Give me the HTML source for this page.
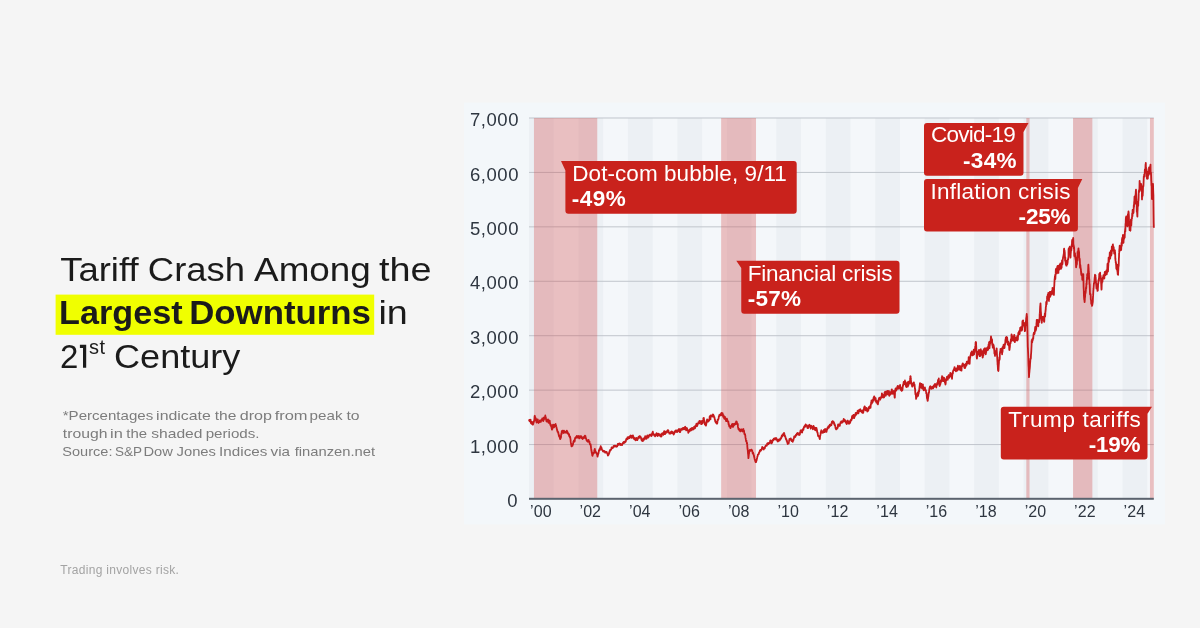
<!DOCTYPE html>
<html><head><meta charset="utf-8">
<style>
html,body{margin:0;padding:0;}
body{width:1200px;height:628px;background:#f5f5f5;position:relative;overflow:hidden;font-family:"Liberation Sans",sans-serif;}
svg{position:absolute;left:0;top:0;will-change:transform;}
</style></head>
<body>
<svg width="1200" height="628" viewBox="0 0 1200 628" font-family="Liberation Sans, sans-serif">
<!-- left text -->
<rect x="55.6" y="294.6" width="318.6" height="40.2" fill="#f0ff00"/>
<g fill="#1b1b1b" font-size="33">
<text x="60.17" y="280.8" textLength="78.44" lengthAdjust="spacingAndGlyphs">Tariff</text>
<text x="147.83" y="280.8" textLength="97.32" lengthAdjust="spacingAndGlyphs">Crash</text>
<text x="254.06" y="280.8" textLength="116.8" lengthAdjust="spacingAndGlyphs">Among</text>
<text x="378.92" y="280.8" textLength="52.53" lengthAdjust="spacingAndGlyphs">the</text>
<text x="59.12" y="324.3" font-weight="bold" textLength="123.62" lengthAdjust="spacingAndGlyphs">Largest</text>
<text x="189.2" y="324.3" font-weight="bold" textLength="181.75" lengthAdjust="spacingAndGlyphs">Downturns</text>
<text x="378.41" y="324.3" textLength="29.35" lengthAdjust="spacingAndGlyphs">in</text>
<text x="114.01" y="368.2" textLength="126.42" lengthAdjust="spacingAndGlyphs">Century</text>
<text x="60" y="368.2">2</text>
<path d="M83,344.8 H86.2 V367.8 H83 V347.9 H79.9 V344.8 Z"/>
<text x="89" y="353.5" font-size="20" textLength="16" lengthAdjust="spacing">st</text>
</g>
<g fill="#7c7c7c" font-size="13.5">
<text x="62.73" y="420.2" textLength="90.48" lengthAdjust="spacingAndGlyphs">*Percentages</text>
<text x="156.14" y="420.2" textLength="54.71" lengthAdjust="spacingAndGlyphs">indicate</text>
<text x="214.69" y="420.2" textLength="21.68" lengthAdjust="spacingAndGlyphs">the</text>
<text x="239.72" y="420.2" textLength="32.25" lengthAdjust="spacingAndGlyphs">drop</text>
<text x="274.68" y="420.2" textLength="32.91" lengthAdjust="spacingAndGlyphs">from</text>
<text x="309.59" y="420.2" textLength="32.89" lengthAdjust="spacingAndGlyphs">peak</text>
<text x="346.43" y="420.2" textLength="13.16" lengthAdjust="spacingAndGlyphs">to</text>
<text x="62.86" y="437.8" textLength="44.63" lengthAdjust="spacingAndGlyphs">trough</text>
<text x="110.1" y="437.8" textLength="12.76" lengthAdjust="spacingAndGlyphs">in</text>
<text x="126.26" y="437.8" textLength="20.81" lengthAdjust="spacingAndGlyphs">the</text>
<text x="151.22" y="437.8" textLength="51.28" lengthAdjust="spacingAndGlyphs">shaded</text>
<text x="205.69" y="437.8" textLength="53.84" lengthAdjust="spacingAndGlyphs">periods.</text>
<text x="62.35" y="455.6" textLength="50.09" lengthAdjust="spacingAndGlyphs">Source:</text>
<text x="115.09" y="455.6" textLength="27.01" lengthAdjust="spacingAndGlyphs">S&amp;P</text>
<text x="143.51" y="455.6" textLength="29.42" lengthAdjust="spacingAndGlyphs">Dow</text>
<text x="176.56" y="455.6" textLength="39.43" lengthAdjust="spacingAndGlyphs">Jones</text>
<text x="219.12" y="455.6" textLength="48.25" lengthAdjust="spacingAndGlyphs">Indices</text>
<text x="270.64" y="455.6" textLength="19.47" lengthAdjust="spacingAndGlyphs">via</text>
<text x="294.68" y="455.6" textLength="80.47" lengthAdjust="spacingAndGlyphs">finanzen.net</text>
</g>
<text x="60.3" y="574.4" fill="#a3a3a3" font-size="12" textLength="118.5" lengthAdjust="spacing">Trading involves risk.</text>

<!-- chart panel -->
<rect x="464" y="102.5" width="701" height="422" fill="#f3f7fa"/>
<rect x="529" y="118" width="624.8" height="381" fill="#f4f7fa"/>
<rect x="529.00" y="118" width="24.73" height="381" fill="#ecf0f4"/>
<rect x="578.46" y="118" width="24.73" height="381" fill="#ecf0f4"/>
<rect x="627.92" y="118" width="24.73" height="381" fill="#ecf0f4"/>
<rect x="677.38" y="118" width="24.73" height="381" fill="#ecf0f4"/>
<rect x="726.84" y="118" width="24.73" height="381" fill="#ecf0f4"/>
<rect x="776.30" y="118" width="24.73" height="381" fill="#ecf0f4"/>
<rect x="825.76" y="118" width="24.73" height="381" fill="#ecf0f4"/>
<rect x="875.22" y="118" width="24.73" height="381" fill="#ecf0f4"/>
<rect x="924.68" y="118" width="24.73" height="381" fill="#ecf0f4"/>
<rect x="974.14" y="118" width="24.73" height="381" fill="#ecf0f4"/>
<rect x="1023.60" y="118" width="24.73" height="381" fill="#ecf0f4"/>
<rect x="1073.06" y="118" width="24.73" height="381" fill="#ecf0f4"/>
<rect x="1122.52" y="118" width="24.73" height="381" fill="#ecf0f4"/>
<line x1="529" x2="1153.8" y1="444.57" y2="444.57" stroke="#c0c5cc" stroke-width="1"/>
<line x1="529" x2="1153.8" y1="390.14" y2="390.14" stroke="#c0c5cc" stroke-width="1"/>
<line x1="529" x2="1153.8" y1="335.71" y2="335.71" stroke="#c0c5cc" stroke-width="1"/>
<line x1="529" x2="1153.8" y1="281.28" y2="281.28" stroke="#c0c5cc" stroke-width="1"/>
<line x1="529" x2="1153.8" y1="226.85" y2="226.85" stroke="#c0c5cc" stroke-width="1"/>
<line x1="529" x2="1153.8" y1="172.42" y2="172.42" stroke="#c0c5cc" stroke-width="1"/>
<line x1="529" x2="1153.8" y1="117.99" y2="117.99" stroke="#c0c5cc" stroke-width="1"/>
<rect x="533.95" y="118" width="63.31" height="381" fill="#d24444" fill-opacity="0.31"/>
<rect x="721.15" y="118" width="34.87" height="381" fill="#d24444" fill-opacity="0.31"/>
<rect x="1026.32" y="118" width="3.21" height="381" fill="#d24444" fill-opacity="0.31"/>
<rect x="1073.06" y="118" width="19.29" height="381" fill="#d24444" fill-opacity="0.31"/>
<rect x="1149.97" y="118" width="3.83" height="381" fill="#d24444" fill-opacity="0.31"/>
<path d="M529.0,419.8 L529.1,420.1 L529.2,419.8 L529.3,420.0 L529.4,420.3 L529.5,421.0 L529.6,421.2 L529.7,420.6 L529.8,420.4 L529.9,419.9 L530.0,419.8 L530.1,419.7 L530.2,419.6 L530.3,420.7 L530.4,420.3 L530.5,420.1 L530.6,419.9 L530.7,421.0 L530.8,422.1 L530.9,422.8 L531.0,423.1 L531.1,423.0 L531.2,423.2 L531.3,423.0 L531.4,423.5 L531.5,423.4 L531.6,423.3 L531.6,423.8 L531.7,422.9 L531.8,422.6 L531.9,422.0 L532.0,422.5 L532.1,423.0 L532.2,423.4 L532.3,423.5 L532.4,423.3 L532.5,423.2 L532.6,423.6 L532.7,424.3 L532.8,424.7 L532.9,424.1 L533.0,424.6 L533.1,424.0 L533.2,423.3 L533.3,423.7 L533.4,423.2 L533.5,421.9 L533.6,422.7 L533.7,422.4 L533.8,422.0 L533.9,422.0 L534.0,421.2 L534.1,420.7 L534.2,421.1 L534.3,420.1 L534.4,419.2 L534.5,418.1 L534.6,416.6 L534.7,415.9 L534.8,415.8 L534.9,416.7 L535.0,416.3 L535.1,416.7 L535.2,417.0 L535.3,417.9 L535.4,418.5 L535.5,418.8 L535.6,418.0 L535.7,419.3 L535.8,420.3 L535.9,420.1 L536.0,419.3 L536.1,418.9 L536.2,420.1 L536.3,421.7 L536.4,421.5 L536.5,421.9 L536.6,422.6 L536.7,422.1 L536.8,421.4 L536.8,421.3 L536.9,421.2 L537.0,420.9 L537.1,420.0 L537.2,419.8 L537.3,419.6 L537.4,419.4 L537.5,420.6 L537.6,420.0 L537.7,419.5 L537.8,419.4 L537.9,420.8 L538.0,421.3 L538.1,421.0 L538.2,422.3 L538.3,422.5 L538.4,422.1 L538.5,423.0 L538.6,422.2 L538.7,422.1 L538.8,422.3 L538.9,422.3 L539.0,422.1 L539.1,422.2 L539.2,421.7 L539.3,422.0 L539.4,422.2 L539.5,421.6 L539.6,421.5 L539.7,422.0 L539.8,421.4 L539.9,420.4 L540.0,420.7 L540.1,421.5 L540.2,421.5 L540.3,421.6 L540.4,421.7 L540.5,420.8 L540.6,421.4 L540.7,420.6 L540.8,421.3 L540.9,421.8 L541.0,421.4 L541.1,420.6 L541.2,420.1 L541.3,419.8 L541.4,419.9 L541.5,420.0 L541.6,419.8 L541.7,420.1 L541.8,420.1 L541.9,419.9 L542.0,420.1 L542.1,419.8 L542.1,419.6 L542.2,418.5 L542.3,418.5 L542.4,418.9 L542.5,419.3 L542.6,419.5 L542.7,419.1 L542.8,419.5 L542.9,419.4 L543.0,418.4 L543.1,420.2 L543.2,421.1 L543.3,421.1 L543.4,420.7 L543.5,420.3 L543.6,420.4 L543.7,419.8 L543.8,419.4 L543.9,419.5 L544.0,417.8 L544.1,417.3 L544.2,417.5 L544.3,417.3 L544.4,417.3 L544.5,417.1 L544.6,418.6 L544.7,418.7 L544.8,417.9 L544.9,418.4 L545.0,418.2 L545.1,417.4 L545.2,416.7 L545.3,415.5 L545.4,416.4 L545.5,416.9 L545.6,417.5 L545.7,417.4 L545.8,417.0 L545.9,419.0 L546.0,418.6 L546.1,419.8 L546.2,419.7 L546.3,421.0 L546.4,421.1 L546.5,420.7 L546.6,421.1 L546.7,421.3 L546.8,421.1 L546.9,421.3 L547.0,421.7 L547.1,421.0 L547.2,420.7 L547.3,421.2 L547.4,419.8 L547.4,420.8 L547.5,420.2 L547.6,420.4 L547.7,420.3 L547.8,419.9 L547.9,419.7 L548.0,419.3 L548.1,420.3 L548.2,421.2 L548.3,420.8 L548.4,421.4 L548.5,422.1 L548.6,422.9 L548.7,422.2 L548.8,421.7 L548.9,420.8 L549.0,421.4 L549.1,421.4 L549.2,422.1 L549.3,421.6 L549.4,420.7 L549.5,421.2 L549.6,420.8 L549.7,420.7 L549.8,421.4 L549.9,423.1 L550.0,422.8 L550.1,423.4 L550.2,424.3 L550.3,424.5 L550.4,424.8 L550.5,424.5 L550.6,425.6 L550.7,425.4 L550.8,425.1 L550.9,424.7 L551.0,425.4 L551.1,426.3 L551.2,426.2 L551.3,426.7 L551.4,427.1 L551.5,426.8 L551.6,427.4 L551.7,428.6 L551.8,428.8 L551.9,429.7 L552.0,429.2 L552.1,428.9 L552.2,429.2 L552.3,429.1 L552.4,428.6 L552.5,428.4 L552.6,427.6 L552.7,427.6 L552.7,426.9 L552.8,426.0 L552.9,424.9 L553.0,425.2 L553.1,424.6 L553.2,425.7 L553.3,426.2 L553.4,427.2 L553.5,426.5 L553.6,427.2 L553.7,427.1 L553.8,427.1 L553.9,427.0 L554.0,427.3 L554.1,427.1 L554.2,426.0 L554.3,425.8 L554.4,425.4 L554.5,424.8 L554.6,424.8 L554.7,425.5 L554.8,425.7 L554.9,425.0 L555.0,425.8 L555.1,426.1 L555.2,425.4 L555.3,424.9 L555.4,424.8 L555.5,424.2 L555.6,424.0 L555.7,424.6 L555.8,425.5 L555.9,425.9 L556.0,425.4 L556.1,425.7 L556.2,426.2 L556.3,426.6 L556.4,427.5 L556.5,427.5 L556.6,428.2 L556.7,428.0 L556.8,429.3 L556.9,429.1 L557.0,429.4 L557.1,430.5 L557.2,430.1 L557.3,430.2 L557.4,431.4 L557.5,431.9 L557.6,431.7 L557.7,431.9 L557.8,431.5 L557.8,431.6 L557.9,431.8 L558.0,432.1 L558.1,432.0 L558.2,432.1 L558.3,432.4 L558.4,434.0 L558.5,434.0 L558.6,433.9 L558.7,434.5 L558.8,435.3 L558.9,434.8 L559.0,436.2 L559.1,436.4 L559.2,435.7 L559.3,436.6 L559.4,436.8 L559.5,436.3 L559.6,436.9 L559.7,437.1 L559.8,437.1 L559.9,438.0 L560.0,438.6 L560.1,438.9 L560.2,439.0 L560.3,438.6 L560.4,438.3 L560.5,438.5 L560.6,438.3 L560.7,437.5 L560.8,437.0 L560.9,437.1 L561.0,437.1 L561.1,435.4 L561.2,434.5 L561.3,433.7 L561.4,434.7 L561.5,434.0 L561.6,433.3 L561.7,432.0 L561.8,431.4 L561.9,431.0 L562.0,430.9 L562.1,432.0 L562.2,431.6 L562.3,431.5 L562.4,432.0 L562.5,431.4 L562.6,430.6 L562.7,431.4 L562.8,431.9 L562.9,431.9 L563.0,431.9 L563.1,432.2 L563.2,432.8 L563.2,431.9 L563.3,431.4 L563.4,432.2 L563.5,433.0 L563.6,432.2 L563.7,431.8 L563.8,431.0 L563.9,430.6 L564.0,431.1 L564.1,431.0 L564.2,432.1 L564.3,432.5 L564.4,432.6 L564.5,432.3 L564.6,432.7 L564.7,432.7 L564.8,432.5 L564.9,432.3 L565.0,432.0 L565.1,431.9 L565.2,432.0 L565.3,431.6 L565.4,431.6 L565.5,432.1 L565.6,432.4 L565.7,432.4 L565.8,432.5 L565.9,432.4 L566.0,432.4 L566.1,432.1 L566.2,432.1 L566.3,432.6 L566.4,432.2 L566.5,431.5 L566.6,431.1 L566.7,431.1 L566.8,430.7 L566.9,431.1 L567.0,431.9 L567.1,431.7 L567.2,432.1 L567.3,431.5 L567.4,432.0 L567.5,433.2 L567.6,433.6 L567.7,432.6 L567.8,432.7 L567.9,433.2 L568.0,433.5 L568.1,433.1 L568.2,433.3 L568.3,433.8 L568.4,433.5 L568.4,433.6 L568.5,434.2 L568.6,434.4 L568.7,434.0 L568.8,434.0 L568.9,434.0 L569.0,435.0 L569.1,435.6 L569.2,435.7 L569.3,436.4 L569.4,436.3 L569.5,436.5 L569.6,436.6 L569.7,437.1 L569.8,436.4 L569.9,436.3 L570.0,436.8 L570.1,437.3 L570.2,437.0 L570.3,438.1 L570.4,438.6 L570.5,439.1 L570.6,440.0 L570.7,441.4 L570.8,442.2 L570.9,442.9 L571.0,443.3 L571.1,443.8 L571.2,444.6 L571.3,445.1 L571.4,445.7 L571.5,446.4 L571.6,446.1 L571.7,445.9 L571.8,445.3 L571.9,445.4 L572.0,445.4 L572.1,445.0 L572.2,445.4 L572.3,445.2 L572.4,445.8 L572.5,445.7 L572.6,445.2 L572.7,444.6 L572.8,444.3 L572.9,444.1 L573.0,444.4 L573.1,443.3 L573.2,442.7 L573.3,441.9 L573.4,442.0 L573.5,441.7 L573.6,442.2 L573.7,441.5 L573.8,440.8 L573.9,441.3 L573.9,441.0 L574.0,440.3 L574.1,440.8 L574.2,441.3 L574.3,441.5 L574.4,441.4 L574.5,441.7 L574.6,441.4 L574.7,441.0 L574.8,440.4 L574.9,439.7 L575.0,438.7 L575.1,437.8 L575.2,438.1 L575.3,438.0 L575.4,438.1 L575.5,438.3 L575.6,438.0 L575.7,437.7 L575.8,437.1 L575.9,437.5 L576.0,437.8 L576.1,437.4 L576.2,437.2 L576.3,437.0 L576.4,436.8 L576.5,437.0 L576.6,436.5 L576.7,436.1 L576.8,435.9 L576.9,436.1 L577.0,436.0 L577.1,437.1 L577.2,437.4 L577.3,437.2 L577.4,437.7 L577.5,437.4 L577.6,437.2 L577.7,437.6 L577.8,437.6 L577.9,437.5 L578.0,437.1 L578.1,436.6 L578.2,436.4 L578.3,436.6 L578.4,436.5 L578.5,436.5 L578.6,436.2 L578.7,436.0 L578.8,436.4 L578.9,437.0 L578.9,437.2 L579.0,437.6 L579.1,438.1 L579.2,438.1 L579.3,438.4 L579.4,438.3 L579.5,438.1 L579.6,438.2 L579.7,437.1 L579.8,437.3 L579.9,436.7 L580.0,436.7 L580.1,436.1 L580.2,437.3 L580.3,437.6 L580.4,437.5 L580.5,437.5 L580.6,436.6 L580.7,436.8 L580.8,436.4 L580.9,436.3 L581.0,436.1 L581.1,436.2 L581.2,436.5 L581.3,436.6 L581.4,437.4 L581.5,437.1 L581.6,437.9 L581.7,438.0 L581.8,437.3 L581.9,437.7 L582.0,437.9 L582.1,437.7 L582.2,437.9 L582.3,438.6 L582.4,438.7 L582.5,438.7 L582.6,438.5 L582.7,439.0 L582.8,438.2 L582.9,437.5 L583.0,437.6 L583.1,437.5 L583.2,437.8 L583.3,437.3 L583.4,437.7 L583.5,437.5 L583.6,437.8 L583.7,438.2 L583.8,438.0 L583.9,437.4 L584.0,437.5 L584.1,437.9 L584.2,437.6 L584.2,437.7 L584.3,437.7 L584.4,437.0 L584.5,436.6 L584.6,436.9 L584.7,435.9 L584.8,436.0 L584.9,435.7 L585.0,436.2 L585.1,436.3 L585.2,437.3 L585.3,436.5 L585.4,435.9 L585.5,436.6 L585.6,437.5 L585.7,438.4 L585.8,437.9 L585.9,438.2 L586.0,438.4 L586.1,438.6 L586.2,438.8 L586.3,439.4 L586.4,439.5 L586.5,440.2 L586.6,440.4 L586.7,440.3 L586.8,440.2 L586.9,440.4 L587.0,440.9 L587.1,440.9 L587.2,441.2 L587.3,440.6 L587.4,440.3 L587.5,440.5 L587.6,440.8 L587.7,441.2 L587.8,441.7 L587.9,441.9 L588.0,441.9 L588.1,441.7 L588.2,441.6 L588.3,440.7 L588.4,441.1 L588.5,441.2 L588.6,440.0 L588.7,440.9 L588.8,441.3 L588.9,441.4 L589.0,441.4 L589.1,441.4 L589.2,441.6 L589.3,441.6 L589.4,441.7 L589.5,441.5 L589.5,442.5 L589.6,443.0 L589.7,443.2 L589.8,443.8 L589.9,444.3 L590.0,444.2 L590.1,444.6 L590.2,444.5 L590.3,444.3 L590.4,444.3 L590.5,444.2 L590.6,444.4 L590.7,445.1 L590.8,445.9 L590.9,446.6 L591.0,447.6 L591.1,448.4 L591.2,448.9 L591.3,450.0 L591.4,450.5 L591.5,450.5 L591.6,451.5 L591.7,452.1 L591.8,452.9 L591.9,453.1 L592.0,453.6 L592.1,454.0 L592.2,454.9 L592.3,455.6 L592.4,455.4 L592.5,455.8 L592.6,455.0 L592.7,454.5 L592.8,454.8 L592.9,454.3 L593.0,454.1 L593.1,453.7 L593.2,453.4 L593.3,453.6 L593.4,453.5 L593.5,452.7 L593.6,452.6 L593.7,452.8 L593.8,453.0 L593.9,453.2 L594.0,452.8 L594.1,451.9 L594.2,451.5 L594.3,451.2 L594.4,450.1 L594.5,450.0 L594.6,450.0 L594.7,449.5 L594.8,449.0 L594.8,449.1 L594.9,449.9 L595.0,450.0 L595.1,450.1 L595.2,450.9 L595.3,451.2 L595.4,451.7 L595.5,451.7 L595.6,452.0 L595.7,452.3 L595.8,452.6 L595.9,452.5 L596.0,452.2 L596.1,452.6 L596.2,452.5 L596.3,453.0 L596.4,453.2 L596.5,453.2 L596.6,452.9 L596.7,453.3 L596.8,453.5 L596.9,453.7 L597.0,454.4 L597.1,454.7 L597.2,455.1 L597.3,455.2 L597.4,455.8 L597.5,456.7 L597.6,456.3 L597.7,455.8 L597.8,455.6 L597.9,454.9 L598.0,454.5 L598.1,454.3 L598.2,453.7 L598.3,453.9 L598.4,453.7 L598.5,453.2 L598.6,452.5 L598.7,452.1 L598.8,451.5 L598.9,451.3 L599.0,450.8 L599.1,450.1 L599.2,450.3 L599.3,449.3 L599.4,449.5 L599.5,449.4 L599.6,449.3 L599.7,448.8 L599.8,449.2 L599.9,450.0 L600.0,449.7 L600.0,449.3 L600.1,449.0 L600.2,447.9 L600.3,447.8 L600.4,447.6 L600.5,447.2 L600.6,446.9 L600.7,446.2 L600.8,446.6 L600.9,446.7 L601.0,448.1 L601.1,448.0 L601.2,448.3 L601.3,448.2 L601.4,447.6 L601.5,447.8 L601.6,448.1 L601.7,448.6 L601.8,449.1 L601.9,449.6 L602.0,449.6 L602.1,449.8 L602.2,450.0 L602.3,450.3 L602.4,450.2 L602.5,450.2 L602.6,450.5 L602.7,450.5 L602.8,450.7 L602.9,451.4 L603.0,451.1 L603.1,451.1 L603.2,451.5 L603.3,451.2 L603.4,451.1 L603.5,451.7 L603.6,451.2 L603.7,451.1 L603.8,450.9 L603.9,450.8 L604.0,451.0 L604.1,451.6 L604.2,451.3 L604.3,451.3 L604.4,451.5 L604.5,451.4 L604.6,451.5 L604.7,451.3 L604.8,451.5 L604.9,451.5 L605.0,452.4 L605.1,452.6 L605.2,452.4 L605.2,452.1 L605.3,452.4 L605.4,452.6 L605.5,452.2 L605.6,452.5 L605.7,452.4 L605.8,452.0 L605.9,452.1 L606.0,451.9 L606.1,452.3 L606.2,452.4 L606.3,452.6 L606.4,452.7 L606.5,452.5 L606.6,451.8 L606.7,452.2 L606.8,452.6 L606.9,452.6 L607.0,453.1 L607.1,453.1 L607.2,453.1 L607.3,453.4 L607.4,453.4 L607.5,454.1 L607.6,454.0 L607.7,454.7 L607.8,455.1 L607.9,455.5 L608.0,455.5 L608.1,455.2 L608.2,455.1 L608.3,455.2 L608.4,455.0 L608.5,454.4 L608.6,454.4 L608.7,454.2 L608.8,453.7 L608.9,453.5 L609.0,454.0 L609.1,453.0 L609.2,452.2 L609.3,452.8 L609.4,452.6 L609.5,452.2 L609.6,451.6 L609.7,451.0 L609.8,450.9 L609.9,451.0 L610.0,450.7 L610.1,450.0 L610.2,450.1 L610.3,450.3 L610.4,450.0 L610.5,450.5 L610.5,450.3 L610.6,450.2 L610.7,449.7 L610.8,449.7 L610.9,449.8 L611.0,449.7 L611.1,449.4 L611.2,449.4 L611.3,449.1 L611.4,448.7 L611.5,448.1 L611.6,447.3 L611.7,447.5 L611.8,447.6 L611.9,448.4 L612.0,447.6 L612.1,447.7 L612.2,447.6 L612.3,447.3 L612.4,447.7 L612.5,447.4 L612.6,447.3 L612.7,448.0 L612.8,447.7 L612.9,447.1 L613.0,447.8 L613.1,447.3 L613.2,447.1 L613.3,446.8 L613.4,446.5 L613.5,446.1 L613.6,446.2 L613.7,445.9 L613.8,446.2 L613.9,445.9 L614.0,446.3 L614.1,446.4 L614.2,445.8 L614.3,445.7 L614.4,445.8 L614.5,446.3 L614.6,446.7 L614.7,446.7 L614.8,446.4 L614.9,446.3 L615.0,446.1 L615.1,446.2 L615.2,445.7 L615.3,445.9 L615.4,446.2 L615.5,445.9 L615.6,445.9 L615.7,446.0 L615.8,446.3 L615.8,446.4 L615.9,446.2 L616.0,446.0 L616.1,446.5 L616.2,446.4 L616.3,446.3 L616.4,446.7 L616.5,446.4 L616.6,446.6 L616.7,446.7 L616.8,446.4 L616.9,445.8 L617.0,446.1 L617.1,446.0 L617.2,446.3 L617.3,445.4 L617.4,445.6 L617.5,445.1 L617.6,445.3 L617.7,444.9 L617.8,443.9 L617.9,444.9 L618.0,445.0 L618.1,444.8 L618.2,444.7 L618.3,445.0 L618.4,444.0 L618.5,443.9 L618.6,444.5 L618.7,444.1 L618.8,444.7 L618.9,444.2 L619.0,444.4 L619.1,444.2 L619.2,443.6 L619.3,443.5 L619.4,444.0 L619.5,444.7 L619.6,444.1 L619.7,443.9 L619.8,444.3 L619.9,444.0 L620.0,443.9 L620.1,443.7 L620.2,444.7 L620.3,444.9 L620.4,444.6 L620.5,444.4 L620.6,444.1 L620.7,445.2 L620.8,445.2 L620.9,445.1 L621.0,444.1 L621.1,444.6 L621.1,444.8 L621.2,444.8 L621.3,444.5 L621.4,444.8 L621.5,444.4 L621.6,444.8 L621.7,444.5 L621.8,444.6 L621.9,444.3 L622.0,444.5 L622.1,445.0 L622.2,444.4 L622.3,444.1 L622.4,444.1 L622.5,443.9 L622.6,443.3 L622.7,443.5 L622.8,443.4 L622.9,443.0 L623.0,442.6 L623.1,442.6 L623.2,443.3 L623.3,442.6 L623.4,442.3 L623.5,442.1 L623.6,442.1 L623.7,441.8 L623.8,441.8 L623.9,442.1 L624.0,442.3 L624.1,442.4 L624.2,442.5 L624.3,442.9 L624.4,442.4 L624.5,442.8 L624.6,442.4 L624.7,442.7 L624.8,442.4 L624.9,441.6 L625.0,441.3 L625.1,441.5 L625.2,441.3 L625.3,441.1 L625.4,441.7 L625.5,441.8 L625.6,441.6 L625.7,441.6 L625.8,441.4 L625.9,440.9 L626.0,440.3 L626.1,439.7 L626.2,439.3 L626.3,439.2 L626.3,439.0 L626.4,438.9 L626.5,438.9 L626.6,438.8 L626.7,439.4 L626.8,439.4 L626.9,439.2 L627.0,439.4 L627.1,439.3 L627.2,438.8 L627.3,438.7 L627.4,437.5 L627.5,438.6 L627.6,438.5 L627.7,439.1 L627.8,438.5 L627.9,437.1 L628.0,438.2 L628.1,438.0 L628.2,437.6 L628.3,437.7 L628.4,437.3 L628.5,438.2 L628.6,437.7 L628.7,437.4 L628.8,437.3 L628.9,437.5 L629.0,437.0 L629.1,437.2 L629.2,436.9 L629.3,437.1 L629.4,438.0 L629.5,437.9 L629.6,437.7 L629.7,437.2 L629.8,437.5 L629.9,437.4 L630.0,437.2 L630.1,437.2 L630.2,436.7 L630.3,435.7 L630.4,436.3 L630.5,437.3 L630.6,436.9 L630.7,436.2 L630.8,435.8 L630.9,435.5 L631.0,435.9 L631.1,436.3 L631.2,435.9 L631.3,436.4 L631.4,437.4 L631.5,437.9 L631.6,436.8 L631.6,435.9 L631.7,436.3 L631.8,436.7 L631.9,436.7 L632.0,436.9 L632.1,436.2 L632.2,436.1 L632.3,436.5 L632.4,435.7 L632.5,435.9 L632.6,435.7 L632.7,435.6 L632.8,435.6 L632.9,435.3 L633.0,435.5 L633.1,436.3 L633.2,437.3 L633.3,437.8 L633.4,438.0 L633.5,437.9 L633.6,437.8 L633.7,437.4 L633.8,437.2 L633.9,437.5 L634.0,437.7 L634.1,438.9 L634.2,439.1 L634.3,439.0 L634.4,439.0 L634.5,439.2 L634.6,439.4 L634.7,439.1 L634.8,439.3 L634.9,439.1 L635.0,439.0 L635.1,439.0 L635.2,438.5 L635.3,439.0 L635.4,439.3 L635.5,439.8 L635.6,440.4 L635.7,439.8 L635.8,439.1 L635.9,439.3 L636.0,439.1 L636.1,438.7 L636.2,438.5 L636.3,438.0 L636.4,438.7 L636.5,439.1 L636.6,439.0 L636.7,438.4 L636.8,438.4 L636.8,439.0 L636.9,439.2 L637.0,439.6 L637.1,440.1 L637.2,439.5 L637.3,439.9 L637.4,440.0 L637.5,439.1 L637.6,438.6 L637.7,438.6 L637.8,439.0 L637.9,438.9 L638.0,438.2 L638.1,438.0 L638.2,437.4 L638.3,437.4 L638.4,437.2 L638.5,437.4 L638.6,437.2 L638.7,436.6 L638.8,437.4 L638.9,437.4 L639.0,437.4 L639.1,437.7 L639.2,437.9 L639.3,437.5 L639.4,436.6 L639.5,436.4 L639.6,436.2 L639.7,437.0 L639.8,436.1 L639.9,436.2 L640.0,436.2 L640.1,436.8 L640.2,436.9 L640.3,437.5 L640.4,437.5 L640.5,437.4 L640.6,437.4 L640.7,437.4 L640.8,437.8 L640.9,437.2 L641.0,437.6 L641.1,438.5 L641.2,438.7 L641.3,439.1 L641.4,439.7 L641.5,439.9 L641.6,439.8 L641.7,440.4 L641.8,440.6 L641.9,440.0 L642.0,439.7 L642.1,439.8 L642.2,439.9 L642.3,440.0 L642.4,440.1 L642.5,439.8 L642.6,439.9 L642.7,441.1 L642.8,441.1 L642.9,441.1 L643.0,440.4 L643.0,440.2 L643.1,439.7 L643.2,438.3 L643.3,438.3 L643.4,438.4 L643.5,438.6 L643.6,439.3 L643.7,439.8 L643.8,439.2 L643.9,439.0 L644.0,439.5 L644.1,439.7 L644.2,439.0 L644.3,438.9 L644.4,439.2 L644.5,439.2 L644.6,438.6 L644.7,437.8 L644.8,437.4 L644.9,437.5 L645.0,437.5 L645.1,436.8 L645.2,436.2 L645.3,436.4 L645.4,436.3 L645.5,436.3 L645.6,436.4 L645.7,436.8 L645.8,437.5 L645.9,437.9 L646.0,438.8 L646.1,438.3 L646.2,438.2 L646.3,438.9 L646.4,438.3 L646.5,437.8 L646.6,438.7 L646.7,437.7 L646.8,437.3 L646.9,436.2 L647.0,436.8 L647.1,436.4 L647.2,436.2 L647.3,436.0 L647.3,435.9 L647.4,435.3 L647.5,436.0 L647.6,436.5 L647.7,437.1 L647.8,437.3 L647.9,437.6 L648.0,437.3 L648.1,437.1 L648.2,437.1 L648.3,437.3 L648.4,437.5 L648.5,437.0 L648.6,436.6 L648.7,436.5 L648.8,436.6 L648.9,435.8 L649.0,436.1 L649.1,435.7 L649.2,435.1 L649.3,435.2 L649.4,434.8 L649.5,435.3 L649.6,434.8 L649.7,434.6 L649.8,435.4 L649.9,435.0 L650.0,435.5 L650.1,434.8 L650.2,435.1 L650.3,435.1 L650.4,435.0 L650.5,435.1 L650.6,434.9 L650.7,435.1 L650.8,434.7 L650.9,434.7 L651.0,434.5 L651.1,435.8 L651.2,435.2 L651.3,435.1 L651.4,436.0 L651.5,435.9 L651.6,435.6 L651.7,435.0 L651.8,435.5 L651.9,434.6 L652.0,434.7 L652.1,433.4 L652.2,433.4 L652.3,433.0 L652.4,433.1 L652.5,433.7 L652.6,433.0 L652.6,432.7 L652.7,432.0 L652.8,431.7 L652.9,432.1 L653.0,433.1 L653.1,433.6 L653.2,434.1 L653.3,434.6 L653.4,434.4 L653.5,434.4 L653.6,434.7 L653.7,434.7 L653.8,434.9 L653.9,434.9 L654.0,434.7 L654.1,434.3 L654.2,434.8 L654.3,435.7 L654.4,435.1 L654.5,435.1 L654.6,434.7 L654.7,435.5 L654.8,435.6 L654.9,435.5 L655.0,436.2 L655.1,436.3 L655.2,435.9 L655.3,435.3 L655.4,434.5 L655.5,434.8 L655.6,435.5 L655.7,435.1 L655.8,434.6 L655.9,434.4 L656.0,435.0 L656.1,434.6 L656.2,434.1 L656.3,433.8 L656.4,433.9 L656.5,433.7 L656.6,433.2 L656.7,433.5 L656.8,434.7 L656.9,434.7 L657.0,434.8 L657.1,435.0 L657.2,434.8 L657.3,435.4 L657.4,435.6 L657.5,436.0 L657.6,436.0 L657.7,435.5 L657.8,435.8 L657.9,435.1 L657.9,434.5 L658.0,434.4 L658.1,434.3 L658.2,433.7 L658.3,434.0 L658.4,434.3 L658.5,435.1 L658.6,435.1 L658.7,434.7 L658.8,434.4 L658.9,434.2 L659.0,434.3 L659.1,434.1 L659.2,434.8 L659.3,434.3 L659.4,434.5 L659.5,435.0 L659.6,435.4 L659.7,435.7 L659.8,435.3 L659.9,434.7 L660.0,435.4 L660.1,434.9 L660.2,434.4 L660.3,434.7 L660.4,435.4 L660.5,435.8 L660.6,436.1 L660.7,435.9 L660.8,436.0 L660.9,436.7 L661.0,436.2 L661.1,436.7 L661.2,435.9 L661.3,436.2 L661.4,436.2 L661.5,436.3 L661.6,436.2 L661.7,435.2 L661.8,434.5 L661.9,433.8 L662.0,433.3 L662.1,433.7 L662.2,433.7 L662.3,433.6 L662.4,433.8 L662.5,433.2 L662.6,433.2 L662.7,433.2 L662.8,433.4 L662.9,434.1 L663.0,433.8 L663.1,433.1 L663.2,433.0 L663.2,433.5 L663.3,434.8 L663.4,434.7 L663.5,434.1 L663.6,433.9 L663.7,433.4 L663.8,432.6 L663.9,432.0 L664.0,432.2 L664.1,431.6 L664.2,431.2 L664.3,432.0 L664.4,432.2 L664.5,432.9 L664.6,432.9 L664.7,432.6 L664.8,433.1 L664.9,434.2 L665.0,433.7 L665.1,433.6 L665.2,433.0 L665.3,433.9 L665.4,433.5 L665.5,432.6 L665.6,431.7 L665.7,432.0 L665.8,432.0 L665.9,432.2 L666.0,431.9 L666.1,431.5 L666.2,431.6 L666.3,432.5 L666.4,432.3 L666.5,432.7 L666.6,432.5 L666.7,432.6 L666.8,431.9 L666.9,431.4 L667.0,431.8 L667.1,431.8 L667.2,431.0 L667.3,431.4 L667.4,431.3 L667.5,430.8 L667.6,430.3 L667.7,430.2 L667.8,431.0 L667.9,431.8 L668.0,431.8 L668.1,431.8 L668.2,430.6 L668.3,431.2 L668.4,430.7 L668.4,430.4 L668.5,431.5 L668.6,432.0 L668.7,432.1 L668.8,432.5 L668.9,432.7 L669.0,432.6 L669.1,433.1 L669.2,432.9 L669.3,433.3 L669.4,433.6 L669.5,433.4 L669.6,433.7 L669.7,433.6 L669.8,432.8 L669.9,432.9 L670.0,433.0 L670.1,432.7 L670.2,432.9 L670.3,432.4 L670.4,433.1 L670.5,432.9 L670.6,433.2 L670.7,433.6 L670.8,432.8 L670.9,433.3 L671.0,432.4 L671.1,432.1 L671.2,431.6 L671.3,432.4 L671.4,432.1 L671.5,431.6 L671.6,432.0 L671.7,432.3 L671.8,431.3 L671.9,431.5 L672.0,432.0 L672.1,432.6 L672.2,432.7 L672.3,432.8 L672.4,433.0 L672.5,432.4 L672.6,432.9 L672.7,432.9 L672.8,432.4 L672.9,433.2 L673.0,433.0 L673.1,432.3 L673.2,433.3 L673.3,433.5 L673.4,433.8 L673.5,434.4 L673.6,433.8 L673.6,434.5 L673.7,433.9 L673.8,432.8 L673.9,433.3 L674.0,433.2 L674.1,433.8 L674.2,433.1 L674.3,433.2 L674.4,433.0 L674.5,432.6 L674.6,432.0 L674.7,431.9 L674.8,431.5 L674.9,431.5 L675.0,431.1 L675.1,431.4 L675.2,431.0 L675.3,431.9 L675.4,431.9 L675.5,430.7 L675.6,430.5 L675.7,431.0 L675.8,430.7 L675.9,431.0 L676.0,431.7 L676.1,431.9 L676.2,431.4 L676.3,431.0 L676.4,430.8 L676.5,431.1 L676.6,431.5 L676.7,430.6 L676.8,430.3 L676.9,430.6 L677.0,431.6 L677.1,432.1 L677.2,430.6 L677.3,431.1 L677.4,430.9 L677.5,430.6 L677.6,430.6 L677.7,430.5 L677.8,431.1 L677.9,431.5 L678.0,430.4 L678.1,430.6 L678.2,430.0 L678.3,430.7 L678.4,430.7 L678.5,430.4 L678.6,429.6 L678.7,430.1 L678.8,429.5 L678.9,429.2 L678.9,429.4 L679.0,428.9 L679.1,429.2 L679.2,429.5 L679.3,429.3 L679.4,430.7 L679.5,430.7 L679.6,431.1 L679.7,431.8 L679.8,432.0 L679.9,431.5 L680.0,431.6 L680.1,430.9 L680.2,431.4 L680.3,432.0 L680.4,431.1 L680.5,430.8 L680.6,430.2 L680.7,430.6 L680.8,430.1 L680.9,429.8 L681.0,429.4 L681.1,429.3 L681.2,428.6 L681.3,428.8 L681.4,429.3 L681.5,429.8 L681.6,428.8 L681.7,428.9 L681.8,429.1 L681.9,429.3 L682.0,429.2 L682.1,429.6 L682.2,429.4 L682.3,429.4 L682.4,429.4 L682.5,429.6 L682.6,429.2 L682.7,429.2 L682.8,428.8 L682.9,428.3 L683.0,427.8 L683.1,428.7 L683.2,428.6 L683.3,428.7 L683.4,428.0 L683.5,428.5 L683.6,428.8 L683.7,428.9 L683.8,429.0 L683.9,428.3 L684.0,428.5 L684.1,427.8 L684.2,428.5 L684.2,429.4 L684.3,428.7 L684.4,428.3 L684.5,427.9 L684.6,427.8 L684.7,427.4 L684.8,428.0 L684.9,427.4 L685.0,427.6 L685.1,426.9 L685.2,426.7 L685.3,427.8 L685.4,428.4 L685.5,427.6 L685.6,428.0 L685.7,428.6 L685.8,428.8 L685.9,429.3 L686.0,429.9 L686.1,430.2 L686.2,430.4 L686.3,429.9 L686.4,430.2 L686.5,429.4 L686.6,428.8 L686.7,428.1 L686.8,427.8 L686.9,428.1 L687.0,428.3 L687.1,428.7 L687.2,429.4 L687.3,429.8 L687.4,430.4 L687.5,429.9 L687.6,429.9 L687.7,430.0 L687.8,430.9 L687.9,430.8 L688.0,430.9 L688.1,431.4 L688.2,431.9 L688.3,432.9 L688.4,432.5 L688.5,432.4 L688.6,431.2 L688.7,431.3 L688.8,431.5 L688.9,430.8 L689.0,430.8 L689.1,430.8 L689.2,431.1 L689.3,431.5 L689.4,430.8 L689.5,430.4 L689.6,429.6 L689.6,429.9 L689.7,429.9 L689.8,430.4 L689.9,429.9 L690.0,430.6 L690.1,430.4 L690.2,429.8 L690.3,429.0 L690.4,429.6 L690.5,429.0 L690.6,429.4 L690.7,429.8 L690.8,430.6 L690.9,430.0 L691.0,429.1 L691.1,429.4 L691.2,429.9 L691.3,430.1 L691.4,428.7 L691.5,428.2 L691.6,428.5 L691.7,429.5 L691.8,429.7 L691.9,428.9 L692.0,427.8 L692.1,427.8 L692.2,428.0 L692.3,428.2 L692.4,429.1 L692.5,428.4 L692.6,428.9 L692.7,428.2 L692.8,429.0 L692.9,429.5 L693.0,429.2 L693.1,429.5 L693.2,429.0 L693.3,428.8 L693.4,429.3 L693.5,428.9 L693.6,428.3 L693.7,429.2 L693.8,428.0 L693.9,427.5 L694.0,426.8 L694.1,427.5 L694.2,427.7 L694.3,427.6 L694.4,426.7 L694.5,427.2 L694.6,427.4 L694.7,428.3 L694.7,428.2 L694.8,427.7 L694.9,428.4 L695.0,428.4 L695.1,427.9 L695.2,426.7 L695.3,426.0 L695.4,425.9 L695.5,426.3 L695.6,426.6 L695.7,426.6 L695.8,426.3 L695.9,426.2 L696.0,425.2 L696.1,424.9 L696.2,425.5 L696.3,424.5 L696.4,423.8 L696.5,423.7 L696.6,424.0 L696.7,425.0 L696.8,425.5 L696.9,424.9 L697.0,425.3 L697.1,426.0 L697.2,425.8 L697.3,425.6 L697.4,425.1 L697.5,424.7 L697.6,423.8 L697.7,424.2 L697.8,423.5 L697.9,424.0 L698.0,423.6 L698.1,423.6 L698.2,423.5 L698.3,422.9 L698.4,423.0 L698.5,422.4 L698.6,421.9 L698.7,421.9 L698.8,422.3 L698.9,422.8 L699.0,423.1 L699.1,423.3 L699.2,423.4 L699.3,421.6 L699.4,421.3 L699.5,420.8 L699.6,421.4 L699.7,421.9 L699.8,422.1 L699.9,422.1 L700.0,422.7 L700.0,421.7 L700.1,422.0 L700.2,421.3 L700.3,422.6 L700.4,422.5 L700.5,422.3 L700.6,422.1 L700.7,421.7 L700.8,421.5 L700.9,421.3 L701.0,422.4 L701.1,422.7 L701.2,424.1 L701.3,423.6 L701.4,423.4 L701.5,423.4 L701.6,423.8 L701.7,424.1 L701.8,423.0 L701.9,421.9 L702.0,421.8 L702.1,420.8 L702.2,421.6 L702.3,422.6 L702.4,422.7 L702.5,423.0 L702.6,423.1 L702.7,422.8 L702.8,420.8 L702.9,421.0 L703.0,420.7 L703.1,420.4 L703.2,420.2 L703.3,419.4 L703.4,418.1 L703.5,418.6 L703.6,418.3 L703.7,418.3 L703.8,417.8 L703.9,418.6 L704.0,419.5 L704.1,420.7 L704.2,420.5 L704.3,420.5 L704.4,420.6 L704.5,422.2 L704.6,422.5 L704.7,423.1 L704.8,424.1 L704.9,424.7 L704.9,424.5 L705.0,424.3 L705.1,424.4 L705.2,424.2 L705.3,424.7 L705.4,424.8 L705.5,424.9 L705.6,424.7 L705.7,424.8 L705.8,425.0 L705.9,425.2 L706.0,425.7 L706.1,424.5 L706.2,424.3 L706.3,424.2 L706.4,422.8 L706.5,422.0 L706.6,422.9 L706.7,422.4 L706.8,421.9 L706.9,420.7 L707.0,419.9 L707.1,419.4 L707.2,420.1 L707.3,420.6 L707.4,420.4 L707.5,420.0 L707.6,420.6 L707.7,420.9 L707.8,421.1 L707.9,421.0 L708.0,420.8 L708.1,420.9 L708.2,421.7 L708.3,421.1 L708.4,420.3 L708.5,420.6 L708.6,420.1 L708.7,420.1 L708.8,419.9 L708.9,419.8 L709.0,420.5 L709.1,420.3 L709.2,419.9 L709.3,420.6 L709.4,419.6 L709.5,418.5 L709.6,417.6 L709.7,416.5 L709.8,416.2 L709.9,416.6 L710.0,417.2 L710.1,418.0 L710.2,418.1 L710.3,418.3 L710.4,417.9 L710.5,419.2 L710.5,417.7 L710.6,416.3 L710.7,416.3 L710.8,415.8 L710.9,415.5 L711.0,415.3 L711.1,415.5 L711.2,415.6 L711.3,416.1 L711.4,416.0 L711.5,416.0 L711.6,415.8 L711.7,416.3 L711.8,416.3 L711.9,416.3 L712.0,415.9 L712.1,416.6 L712.2,416.3 L712.3,415.7 L712.4,415.3 L712.5,415.5 L712.6,415.9 L712.7,416.0 L712.8,415.6 L712.9,414.5 L713.0,414.6 L713.1,415.1 L713.2,414.8 L713.3,414.7 L713.4,415.3 L713.5,415.8 L713.6,415.9 L713.7,415.5 L713.8,416.2 L713.9,416.9 L714.0,416.6 L714.1,417.4 L714.2,417.3 L714.3,417.1 L714.4,417.2 L714.5,418.1 L714.6,418.5 L714.7,419.0 L714.8,419.1 L714.9,419.9 L715.0,419.5 L715.1,420.8 L715.2,421.2 L715.3,421.5 L715.4,421.2 L715.5,421.9 L715.6,421.8 L715.7,422.5 L715.8,422.3 L715.9,421.5 L716.0,422.1 L716.1,422.1 L716.2,422.9 L716.3,422.6 L716.4,422.2 L716.5,422.4 L716.6,423.4 L716.7,423.5 L716.8,423.0 L716.8,422.7 L716.9,422.5 L717.0,423.4 L717.1,423.6 L717.2,422.6 L717.3,423.2 L717.4,422.3 L717.5,421.0 L717.6,420.4 L717.7,419.5 L717.8,419.5 L717.9,420.1 L718.0,420.0 L718.1,419.9 L718.2,419.8 L718.3,419.2 L718.4,419.1 L718.5,418.8 L718.6,418.3 L718.7,418.1 L718.8,416.8 L718.9,416.3 L719.0,416.1 L719.1,416.0 L719.2,416.2 L719.3,415.2 L719.4,414.9 L719.5,415.4 L719.6,415.6 L719.7,415.5 L719.8,415.6 L719.9,414.7 L720.0,415.3 L720.1,414.8 L720.2,414.5 L720.3,415.1 L720.4,414.9 L720.5,414.8 L720.6,414.2 L720.7,414.3 L720.8,414.0 L720.9,414.9 L721.0,415.4 L721.1,414.7 L721.2,413.8 L721.2,413.7 L721.3,413.9 L721.4,413.0 L721.5,414.3 L721.6,414.6 L721.7,414.0 L721.8,413.4 L721.9,413.9 L722.0,415.0 L722.1,413.9 L722.2,413.6 L722.3,414.1 L722.4,413.9 L722.5,413.1 L722.6,414.7 L722.7,414.2 L722.8,414.0 L722.9,415.6 L723.0,415.4 L723.1,416.8 L723.2,416.3 L723.3,416.3 L723.4,415.1 L723.5,415.8 L723.6,416.0 L723.7,415.6 L723.8,416.3 L723.9,417.0 L724.0,417.5 L724.1,417.8 L724.2,418.7 L724.3,418.6 L724.4,418.6 L724.5,418.8 L724.6,417.9 L724.7,418.4 L724.8,417.4 L724.9,417.7 L725.0,417.0 L725.1,418.2 L725.2,417.9 L725.3,417.9 L725.4,418.1 L725.5,418.3 L725.6,418.4 L725.7,418.8 L725.8,420.0 L725.9,420.3 L726.0,420.5 L726.1,420.7 L726.2,421.2 L726.3,421.2 L726.3,420.6 L726.4,420.6 L726.5,420.8 L726.6,419.8 L726.7,419.1 L726.8,418.9 L726.9,418.6 L727.0,419.2 L727.1,419.7 L727.2,419.4 L727.3,420.1 L727.4,420.6 L727.5,420.7 L727.6,420.9 L727.7,421.5 L727.8,421.3 L727.9,421.8 L728.0,421.7 L728.1,421.4 L728.2,421.4 L728.3,421.4 L728.4,422.4 L728.5,423.6 L728.6,424.4 L728.7,424.5 L728.8,423.9 L728.9,424.8 L729.0,424.9 L729.1,425.5 L729.2,426.1 L729.3,426.5 L729.4,426.3 L729.5,426.3 L729.6,425.8 L729.7,426.6 L729.8,426.3 L729.9,425.9 L730.0,426.1 L730.1,426.0 L730.2,426.5 L730.3,427.3 L730.4,427.7 L730.5,428.2 L730.6,426.8 L730.7,427.2 L730.8,426.5 L730.9,426.6 L731.0,426.4 L731.1,426.0 L731.2,426.4 L731.3,425.9 L731.4,425.7 L731.5,426.5 L731.6,426.2 L731.6,425.9 L731.7,425.6 L731.8,424.7 L731.9,424.9 L732.0,424.6 L732.1,424.2 L732.2,424.7 L732.3,424.0 L732.4,424.9 L732.5,425.6 L732.6,425.3 L732.7,426.0 L732.8,426.0 L732.9,427.0 L733.0,426.5 L733.1,426.7 L733.2,426.0 L733.3,426.4 L733.4,425.7 L733.5,425.4 L733.6,424.9 L733.7,424.5 L733.8,423.9 L733.9,424.2 L734.0,425.3 L734.1,424.8 L734.2,424.8 L734.3,424.6 L734.4,423.9 L734.5,424.6 L734.6,424.6 L734.7,424.5 L734.8,424.6 L734.9,424.0 L735.0,423.6 L735.1,423.9 L735.2,424.2 L735.3,423.6 L735.4,423.8 L735.5,423.2 L735.6,422.8 L735.7,423.7 L735.8,424.1 L735.9,423.9 L735.9,423.6 L736.0,422.9 L736.1,422.2 L736.2,421.4 L736.3,421.8 L736.4,422.1 L736.5,421.7 L736.6,422.1 L736.7,421.7 L736.8,422.8 L736.9,422.5 L737.0,422.8 L737.1,424.0 L737.2,423.5 L737.3,423.4 L737.4,423.5 L737.5,424.2 L737.6,424.6 L737.7,423.8 L737.8,424.3 L737.9,426.4 L738.0,427.0 L738.1,427.7 L738.2,427.9 L738.3,428.2 L738.4,428.7 L738.5,429.3 L738.6,428.8 L738.7,429.6 L738.8,428.6 L738.9,429.0 L739.0,429.7 L739.1,429.3 L739.2,429.0 L739.3,429.6 L739.4,429.2 L739.5,430.2 L739.6,430.7 L739.7,430.1 L739.8,430.2 L739.9,430.9 L740.0,430.7 L740.1,430.2 L740.2,430.2 L740.3,431.2 L740.4,431.4 L740.5,431.1 L740.6,430.7 L740.7,429.7 L740.8,429.9 L740.9,430.1 L741.0,430.2 L741.1,429.5 L741.2,430.0 L741.3,429.3 L741.4,430.7 L741.5,430.2 L741.6,430.5 L741.7,430.2 L741.8,429.7 L741.9,430.3 L742.0,430.3 L742.1,430.1 L742.1,429.7 L742.2,430.1 L742.3,430.6 L742.4,431.5 L742.5,430.1 L742.6,430.1 L742.7,430.2 L742.8,430.9 L742.9,430.3 L743.0,430.6 L743.1,429.7 L743.2,429.2 L743.3,429.3 L743.4,429.0 L743.5,429.7 L743.6,430.0 L743.7,430.5 L743.8,431.3 L743.9,431.4 L744.0,431.6 L744.1,430.9 L744.2,432.8 L744.3,433.3 L744.4,433.9 L744.5,434.2 L744.6,434.1 L744.7,434.0 L744.8,434.1 L744.9,434.5 L745.0,434.3 L745.1,434.2 L745.2,435.3 L745.3,435.5 L745.4,436.7 L745.5,437.7 L745.6,438.1 L745.7,438.5 L745.8,438.9 L745.9,439.7 L746.0,440.2 L746.1,441.1 L746.2,441.3 L746.3,441.4 L746.4,441.1 L746.5,440.9 L746.6,441.7 L746.7,442.3 L746.8,443.1 L746.9,443.4 L747.0,442.9 L747.1,443.0 L747.2,444.4 L747.3,445.3 L747.3,446.3 L747.4,447.4 L747.5,448.7 L747.7,449.9 L747.8,450.4 L747.9,452.0 L748.0,453.5 L748.1,453.9 L748.2,454.9 L748.3,456.3 L748.4,458.1 L748.5,457.8 L748.5,457.8 L748.6,457.0 L748.7,456.2 L748.8,455.0 L748.9,454.2 L749.0,453.6 L749.1,453.0 L749.2,451.4 L749.3,451.2 L749.4,450.2 L749.5,450.3 L749.6,450.1 L749.7,450.3 L749.8,450.1 L749.9,449.8 L750.0,449.9 L750.1,450.1 L750.2,450.3 L750.3,450.7 L750.4,450.8 L750.5,450.9 L750.6,450.9 L750.7,450.4 L750.8,450.0 L750.9,450.2 L751.0,450.0 L751.1,449.9 L751.2,449.7 L751.3,449.7 L751.4,449.6 L751.5,449.8 L751.6,450.4 L751.7,450.3 L751.8,450.1 L751.9,450.1 L752.0,450.2 L752.1,450.4 L752.2,450.8 L752.3,451.7 L752.4,451.7 L752.5,451.9 L752.6,452.4 L752.6,453.0 L752.7,452.8 L752.8,453.7 L752.9,453.3 L753.0,453.3 L753.1,452.7 L753.2,453.2 L753.3,453.4 L753.4,453.9 L753.5,454.0 L753.6,454.5 L753.7,455.1 L753.8,455.1 L753.9,455.8 L754.0,456.3 L754.1,456.5 L754.2,457.0 L754.3,457.5 L754.4,457.7 L754.5,458.2 L754.6,458.9 L754.7,459.3 L754.8,459.7 L754.9,459.5 L755.0,460.2 L755.1,460.2 L755.2,460.8 L755.3,461.2 L755.4,461.6 L755.5,461.8 L755.6,461.9 L755.7,461.7 L755.8,462.2 L755.9,462.1 L756.0,462.2 L756.1,461.7 L756.2,461.6 L756.3,461.1 L756.4,460.9 L756.5,460.5 L756.6,460.4 L756.7,459.9 L756.8,459.3 L756.9,458.7 L757.0,458.5 L757.1,457.9 L757.2,457.1 L757.3,457.1 L757.4,456.4 L757.5,456.5 L757.6,456.1 L757.7,455.6 L757.8,454.9 L757.8,454.6 L757.9,454.6 L758.0,454.7 L758.1,454.9 L758.2,454.5 L758.3,454.4 L758.4,454.4 L758.5,454.0 L758.6,454.1 L758.7,454.1 L758.8,454.1 L758.9,453.3 L759.0,452.6 L759.1,452.4 L759.2,452.8 L759.3,452.5 L759.4,452.3 L759.5,452.0 L759.6,451.6 L759.7,451.5 L759.8,451.0 L759.9,450.6 L760.0,450.3 L760.1,450.4 L760.2,450.4 L760.3,450.0 L760.4,450.3 L760.5,450.2 L760.6,450.4 L760.7,450.8 L760.8,450.4 L760.9,450.3 L761.0,450.2 L761.1,449.7 L761.2,450.1 L761.3,450.0 L761.4,449.8 L761.5,449.3 L761.6,449.6 L761.7,449.2 L761.8,449.0 L761.9,448.5 L762.0,448.0 L762.1,447.8 L762.2,447.0 L762.3,447.0 L762.4,447.2 L762.5,447.4 L762.6,447.8 L762.7,447.8 L762.8,448.6 L762.9,448.6 L763.0,448.5 L763.1,448.1 L763.1,448.3 L763.2,447.7 L763.3,448.0 L763.4,448.1 L763.5,448.9 L763.6,449.2 L763.7,449.5 L763.8,449.0 L763.9,448.6 L764.0,448.9 L764.1,448.5 L764.2,448.1 L764.3,448.1 L764.4,447.9 L764.5,447.8 L764.6,447.9 L764.7,448.4 L764.8,448.3 L764.9,447.6 L765.0,446.9 L765.1,446.8 L765.2,446.9 L765.3,446.9 L765.4,446.3 L765.5,446.0 L765.6,446.1 L765.7,445.8 L765.8,445.7 L765.9,445.3 L766.0,445.4 L766.1,445.9 L766.2,445.8 L766.3,445.4 L766.4,445.8 L766.5,445.8 L766.6,445.3 L766.7,445.4 L766.8,445.6 L766.9,444.7 L767.0,444.3 L767.1,443.8 L767.2,444.1 L767.3,443.3 L767.4,443.9 L767.5,444.1 L767.6,443.7 L767.7,443.1 L767.8,443.4 L767.9,443.6 L768.0,443.4 L768.1,444.3 L768.2,444.1 L768.3,443.9 L768.4,444.1 L768.4,443.9 L768.5,443.6 L768.6,443.6 L768.7,443.4 L768.8,442.8 L768.9,443.0 L769.0,443.0 L769.1,443.3 L769.2,442.9 L769.3,443.1 L769.4,443.0 L769.5,442.9 L769.6,443.0 L769.7,442.3 L769.8,442.3 L769.9,441.8 L770.0,441.5 L770.1,441.0 L770.2,441.1 L770.3,440.8 L770.4,440.5 L770.5,440.9 L770.6,440.9 L770.7,441.0 L770.8,441.1 L770.9,440.6 L771.0,441.0 L771.1,441.8 L771.2,442.7 L771.3,442.9 L771.4,443.3 L771.5,443.4 L771.6,443.2 L771.7,442.5 L771.8,442.5 L771.9,442.4 L772.0,442.8 L772.1,442.6 L772.2,441.9 L772.3,441.1 L772.4,441.8 L772.5,441.3 L772.6,440.5 L772.7,439.9 L772.8,440.5 L772.9,440.4 L773.0,440.0 L773.1,439.7 L773.2,439.9 L773.3,440.1 L773.4,439.5 L773.5,440.0 L773.6,439.2 L773.7,439.0 L773.7,438.7 L773.8,439.2 L773.9,439.3 L774.0,438.8 L774.1,439.3 L774.2,438.3 L774.3,438.8 L774.4,439.3 L774.5,439.1 L774.6,438.8 L774.7,438.4 L774.8,438.4 L774.9,438.4 L775.0,438.4 L775.1,438.6 L775.2,439.6 L775.3,439.1 L775.4,438.9 L775.5,438.7 L775.6,438.9 L775.7,438.6 L775.8,438.5 L775.9,438.5 L776.0,437.9 L776.1,438.5 L776.2,438.3 L776.3,438.9 L776.4,439.1 L776.5,438.5 L776.6,439.1 L776.7,439.2 L776.8,439.6 L776.9,439.3 L777.0,439.8 L777.1,440.6 L777.2,440.5 L777.3,440.7 L777.4,441.0 L777.5,440.6 L777.6,441.1 L777.7,441.3 L777.8,441.3 L777.9,441.2 L778.0,441.5 L778.1,441.2 L778.2,440.3 L778.3,440.5 L778.4,439.6 L778.5,440.5 L778.6,439.8 L778.7,439.9 L778.8,439.8 L778.9,439.8 L778.9,440.1 L779.0,440.6 L779.1,440.7 L779.2,440.0 L779.3,439.4 L779.4,439.5 L779.5,439.7 L779.6,439.9 L779.7,440.4 L779.8,439.5 L779.9,439.2 L780.0,439.0 L780.1,439.2 L780.2,439.6 L780.3,438.9 L780.4,438.5 L780.5,438.8 L780.6,438.2 L780.7,438.6 L780.8,438.2 L780.9,438.6 L781.0,438.7 L781.1,438.3 L781.2,438.0 L781.3,437.5 L781.4,437.7 L781.5,436.9 L781.6,436.2 L781.7,436.1 L781.8,435.7 L781.9,436.0 L782.0,436.0 L782.1,436.5 L782.2,436.3 L782.3,436.1 L782.4,435.4 L782.5,434.8 L782.6,434.3 L782.7,434.4 L782.8,434.4 L782.9,434.4 L783.0,434.2 L783.1,435.0 L783.2,434.5 L783.3,435.2 L783.4,435.3 L783.5,435.2 L783.6,435.3 L783.7,434.4 L783.8,434.3 L783.9,433.5 L784.0,432.8 L784.1,433.4 L784.2,433.6 L784.3,433.4 L784.4,433.9 L784.5,434.3 L784.6,434.9 L784.7,435.3 L784.7,435.9 L784.8,436.2 L784.9,436.1 L785.0,435.8 L785.1,436.1 L785.2,436.4 L785.3,436.4 L785.4,436.9 L785.5,437.8 L785.6,437.7 L785.7,438.5 L785.8,438.4 L785.9,439.2 L786.0,438.7 L786.1,439.6 L786.2,439.6 L786.3,439.2 L786.4,440.0 L786.5,439.7 L786.6,440.2 L786.7,441.1 L786.8,440.8 L786.9,440.6 L787.0,440.8 L787.1,442.0 L787.2,442.1 L787.3,442.3 L787.4,442.6 L787.5,442.8 L787.6,443.7 L787.7,444.0 L787.8,443.3 L787.9,442.8 L788.0,443.0 L788.1,443.4 L788.2,443.3 L788.3,443.0 L788.4,442.7 L788.5,443.3 L788.6,443.3 L788.7,443.4 L788.8,442.6 L788.9,441.9 L789.0,441.4 L789.1,440.7 L789.2,440.7 L789.3,439.8 L789.4,439.8 L789.4,439.4 L789.5,438.8 L789.6,439.0 L789.7,439.1 L789.8,439.7 L789.9,439.4 L790.0,439.3 L790.1,439.2 L790.2,438.8 L790.3,439.5 L790.4,439.3 L790.5,439.1 L790.6,439.0 L790.7,438.9 L790.8,438.3 L790.9,438.7 L791.0,439.3 L791.1,439.8 L791.2,440.0 L791.3,439.9 L791.4,440.5 L791.5,440.3 L791.6,441.0 L791.7,440.8 L791.8,440.8 L791.9,440.8 L792.0,440.1 L792.1,440.4 L792.2,440.7 L792.3,440.7 L792.4,440.5 L792.5,441.3 L792.6,441.4 L792.7,441.9 L792.8,441.3 L792.9,440.4 L793.0,440.1 L793.1,439.8 L793.2,439.5 L793.3,440.5 L793.4,439.8 L793.5,439.3 L793.6,438.9 L793.7,438.7 L793.8,438.8 L793.9,438.5 L794.0,437.7 L794.1,437.4 L794.2,436.4 L794.3,437.3 L794.4,437.2 L794.5,436.8 L794.6,436.4 L794.7,436.9 L794.7,436.9 L794.8,436.1 L794.9,436.4 L795.0,436.7 L795.1,437.0 L795.2,437.0 L795.3,436.4 L795.4,435.9 L795.5,436.6 L795.6,435.7 L795.7,435.8 L795.8,435.8 L795.9,434.8 L796.0,434.6 L796.1,434.9 L796.2,435.0 L796.3,435.1 L796.4,435.3 L796.5,435.3 L796.6,434.6 L796.7,434.2 L796.8,434.6 L796.9,433.3 L797.0,433.9 L797.1,433.9 L797.2,434.0 L797.3,433.7 L797.4,433.9 L797.5,433.8 L797.6,432.8 L797.7,432.9 L797.8,433.5 L797.9,433.4 L798.0,433.9 L798.1,434.1 L798.2,434.1 L798.3,434.0 L798.4,434.3 L798.5,433.9 L798.6,434.1 L798.7,434.8 L798.8,434.5 L798.9,434.7 L799.0,433.9 L799.1,434.0 L799.2,433.5 L799.3,433.1 L799.4,434.1 L799.5,434.6 L799.6,435.0 L799.7,434.0 L799.8,434.7 L799.9,434.0 L800.0,433.3 L800.0,432.8 L800.1,432.2 L800.2,432.2 L800.3,432.0 L800.4,431.6 L800.5,431.1 L800.6,430.5 L800.7,430.4 L800.8,430.5 L800.9,430.5 L801.0,430.1 L801.1,430.8 L801.2,431.2 L801.3,431.2 L801.4,431.3 L801.5,431.2 L801.6,432.4 L801.7,432.4 L801.8,432.3 L801.9,431.7 L802.0,432.5 L802.1,432.5 L802.2,432.0 L802.3,431.6 L802.4,430.8 L802.5,430.0 L802.6,430.4 L802.7,429.8 L802.8,429.8 L802.9,430.0 L803.0,429.0 L803.1,429.2 L803.2,429.5 L803.3,429.5 L803.4,429.8 L803.5,429.1 L803.6,428.8 L803.7,427.9 L803.8,427.5 L803.9,427.7 L804.0,426.9 L804.1,427.1 L804.2,427.2 L804.3,427.2 L804.4,427.0 L804.5,426.2 L804.6,426.3 L804.7,426.0 L804.8,425.8 L804.9,426.4 L805.0,426.8 L805.1,426.8 L805.2,426.3 L805.2,425.8 L805.3,425.3 L805.4,424.9 L805.5,424.9 L805.6,424.4 L805.7,424.7 L805.8,425.1 L805.9,425.0 L806.0,425.5 L806.1,425.5 L806.2,425.7 L806.3,425.7 L806.4,425.4 L806.5,425.6 L806.6,425.5 L806.7,426.2 L806.8,425.8 L806.9,426.1 L807.0,425.5 L807.1,426.8 L807.2,427.1 L807.3,426.8 L807.4,428.0 L807.5,428.0 L807.6,427.8 L807.7,427.6 L807.8,428.2 L807.9,427.9 L808.0,427.7 L808.1,428.0 L808.2,427.5 L808.3,427.3 L808.4,427.1 L808.5,427.2 L808.6,426.8 L808.7,426.5 L808.8,425.7 L808.9,425.3 L809.0,425.5 L809.1,425.4 L809.2,424.8 L809.3,425.1 L809.4,425.0 L809.5,424.8 L809.6,425.0 L809.7,426.4 L809.8,426.4 L809.9,426.4 L810.0,426.4 L810.1,426.9 L810.2,426.4 L810.3,426.6 L810.4,427.0 L810.5,427.5 L810.6,427.4 L810.7,428.1 L810.7,428.7 L810.8,427.8 L810.9,427.1 L811.0,426.7 L811.1,426.0 L811.2,425.8 L811.3,427.0 L811.4,426.6 L811.5,426.2 L811.6,426.2 L811.7,427.5 L811.8,427.1 L811.9,426.6 L812.0,427.1 L812.1,427.3 L812.2,427.1 L812.3,427.4 L812.4,427.1 L812.5,427.3 L812.6,427.2 L812.7,427.4 L812.8,428.5 L812.9,429.3 L813.0,427.8 L813.1,427.9 L813.2,427.5 L813.3,427.1 L813.4,426.2 L813.5,425.9 L813.6,426.3 L813.7,426.4 L813.8,427.5 L813.9,427.6 L814.0,427.2 L814.1,428.4 L814.2,428.3 L814.3,427.9 L814.4,427.3 L814.5,427.8 L814.6,428.2 L814.7,429.3 L814.8,429.9 L814.9,429.6 L815.0,428.6 L815.1,429.2 L815.2,428.5 L815.3,428.4 L815.4,428.7 L815.5,427.9 L815.6,429.6 L815.7,430.0 L815.7,430.3 L815.8,429.5 L815.9,429.0 L816.0,428.1 L816.1,428.4 L816.2,428.3 L816.3,427.9 L816.4,428.0 L816.5,428.2 L816.6,428.7 L816.7,429.3 L816.8,430.4 L816.9,429.7 L817.0,430.3 L817.1,431.8 L817.2,432.0 L817.3,432.4 L817.4,432.6 L817.5,432.3 L817.6,432.9 L817.7,433.5 L817.8,434.4 L817.9,434.9 L818.0,435.7 L818.1,436.1 L818.2,435.1 L818.3,435.4 L818.4,436.3 L818.5,435.9 L818.6,436.0 L818.7,436.1 L818.8,436.3 L818.9,436.4 L819.0,436.6 L819.1,436.4 L819.2,436.4 L819.2,436.3 L819.3,437.0 L819.4,437.5 L819.5,438.3 L819.6,438.4 L819.7,438.5 L819.8,439.2 L819.9,438.5 L820.0,436.9 L820.1,435.8 L820.2,436.0 L820.3,435.6 L820.4,434.8 L820.5,434.4 L820.6,433.8 L820.7,432.8 L820.8,432.1 L820.9,432.3 L821.0,431.4 L821.1,431.0 L821.2,430.5 L821.3,430.3 L821.4,430.6 L821.5,430.8 L821.6,430.8 L821.7,431.2 L821.8,432.4 L821.9,431.7 L822.0,432.1 L822.1,432.3 L822.2,431.9 L822.3,432.9 L822.4,432.1 L822.5,432.3 L822.6,431.8 L822.7,431.9 L822.8,431.5 L822.9,431.3 L823.0,431.1 L823.1,431.9 L823.2,432.5 L823.3,432.4 L823.4,431.5 L823.5,431.6 L823.6,431.1 L823.7,430.9 L823.8,430.6 L823.9,430.0 L824.0,430.6 L824.1,430.4 L824.2,430.4 L824.3,430.5 L824.4,430.8 L824.5,431.1 L824.6,431.5 L824.7,432.0 L824.8,430.6 L824.9,429.6 L825.0,429.5 L825.1,429.0 L825.2,429.4 L825.3,430.8 L825.4,431.6 L825.5,431.5 L825.6,430.6 L825.7,430.5 L825.8,430.8 L825.9,430.7 L826.0,430.9 L826.1,431.4 L826.2,431.3 L826.2,431.2 L826.3,431.4 L826.4,431.6 L826.5,431.9 L826.6,431.5 L826.7,430.5 L826.8,430.4 L826.9,428.9 L827.0,429.5 L827.1,429.1 L827.2,429.5 L827.3,429.3 L827.4,429.0 L827.5,428.4 L827.6,427.5 L827.7,427.6 L827.8,428.2 L827.9,428.2 L828.0,427.9 L828.1,428.2 L828.2,427.6 L828.3,426.5 L828.4,427.2 L828.5,426.9 L828.6,426.2 L828.7,427.2 L828.8,427.0 L828.9,427.0 L829.0,427.7 L829.1,426.9 L829.2,426.6 L829.3,426.8 L829.4,426.4 L829.5,426.0 L829.6,425.4 L829.7,425.0 L829.8,424.6 L829.9,425.0 L830.0,425.0 L830.1,424.7 L830.2,426.0 L830.3,424.5 L830.4,424.4 L830.5,424.8 L830.6,425.5 L830.7,425.1 L830.8,424.8 L830.9,424.9 L831.0,424.8 L831.1,425.1 L831.2,425.2 L831.3,425.0 L831.4,425.1 L831.5,424.4 L831.5,424.2 L831.6,423.9 L831.7,423.4 L831.8,422.4 L831.9,421.9 L832.0,421.6 L832.1,421.6 L832.2,422.0 L832.3,422.0 L832.4,421.5 L832.5,421.2 L832.6,421.4 L832.7,422.0 L832.8,422.8 L832.9,422.5 L833.0,421.8 L833.1,421.4 L833.2,422.1 L833.3,422.1 L833.4,421.8 L833.5,422.3 L833.6,421.9 L833.7,421.9 L833.8,422.3 L833.9,422.9 L834.0,422.7 L834.1,422.9 L834.2,423.7 L834.3,424.6 L834.4,424.4 L834.5,424.3 L834.6,424.8 L834.7,424.2 L834.8,424.7 L834.9,425.6 L835.0,425.3 L835.1,425.7 L835.2,425.8 L835.3,426.1 L835.4,427.0 L835.5,427.9 L835.6,428.3 L835.7,427.8 L835.8,428.7 L835.9,428.2 L836.0,428.4 L836.0,429.3 L836.1,429.4 L836.2,428.7 L836.3,428.7 L836.4,429.4 L836.5,428.8 L836.6,428.9 L836.7,428.2 L836.8,428.8 L836.9,428.4 L837.0,428.4 L837.1,428.7 L837.2,428.4 L837.3,427.8 L837.4,427.7 L837.5,427.9 L837.6,427.3 L837.7,427.8 L837.8,427.0 L837.9,426.3 L838.0,424.9 L838.1,424.5 L838.2,424.5 L838.3,424.5 L838.4,424.7 L838.5,425.6 L838.6,424.9 L838.7,424.8 L838.8,425.1 L838.9,425.9 L839.0,425.2 L839.1,425.1 L839.2,425.9 L839.3,425.7 L839.4,424.8 L839.5,425.0 L839.6,424.9 L839.7,425.3 L839.8,425.9 L839.9,425.4 L840.0,423.8 L840.1,423.9 L840.2,423.9 L840.3,423.3 L840.4,423.4 L840.5,422.8 L840.6,422.2 L840.7,422.7 L840.8,423.2 L840.9,423.1 L841.0,422.5 L841.1,422.2 L841.2,421.3 L841.3,422.0 L841.4,421.6 L841.5,421.8 L841.6,421.6 L841.7,421.3 L841.8,421.8 L841.9,421.8 L842.0,422.3 L842.1,422.0 L842.1,422.4 L842.2,422.5 L842.3,422.2 L842.4,422.5 L842.5,421.6 L842.6,421.8 L842.7,421.2 L842.8,420.8 L842.9,421.3 L843.0,421.2 L843.1,421.6 L843.2,421.6 L843.3,421.6 L843.4,420.4 L843.5,420.4 L843.6,419.3 L843.7,418.9 L843.8,419.5 L843.9,420.7 L844.0,420.1 L844.1,421.2 L844.2,420.6 L844.3,420.0 L844.4,419.8 L844.5,420.0 L844.6,420.1 L844.7,420.0 L844.8,420.2 L844.9,420.6 L845.0,420.9 L845.1,420.2 L845.2,420.6 L845.3,420.4 L845.4,421.1 L845.5,421.6 L845.6,422.4 L845.7,422.6 L845.8,422.2 L845.9,422.1 L846.0,422.4 L846.1,422.1 L846.2,422.3 L846.3,422.1 L846.4,422.0 L846.5,421.8 L846.6,423.3 L846.7,424.1 L846.8,423.7 L846.9,423.8 L847.0,422.6 L847.1,422.8 L847.2,423.1 L847.3,422.3 L847.3,422.1 L847.4,421.0 L847.5,420.8 L847.6,420.9 L847.7,420.6 L847.8,421.1 L847.9,421.4 L848.0,421.8 L848.1,422.0 L848.2,421.6 L848.3,421.9 L848.4,421.8 L848.5,422.1 L848.6,421.6 L848.7,423.2 L848.8,423.3 L848.9,423.2 L849.0,423.9 L849.1,423.3 L849.2,423.2 L849.3,422.5 L849.4,421.9 L849.5,421.5 L849.6,421.6 L849.7,422.3 L849.8,422.4 L849.9,422.7 L850.0,422.6 L850.1,422.9 L850.2,421.1 L850.3,422.1 L850.4,421.4 L850.5,421.3 L850.6,421.1 L850.7,420.2 L850.8,419.9 L850.9,420.3 L851.0,419.7 L851.1,419.4 L851.2,420.3 L851.3,419.9 L851.4,420.1 L851.5,420.2 L851.6,419.6 L851.7,419.1 L851.8,418.9 L851.9,417.2 L852.0,416.6 L852.1,416.6 L852.2,416.1 L852.3,415.8 L852.4,416.8 L852.5,417.5 L852.5,418.4 L852.6,417.1 L852.7,417.3 L852.8,417.5 L852.9,417.9 L853.0,417.4 L853.1,417.4 L853.2,416.4 L853.3,416.0 L853.4,415.0 L853.5,415.1 L853.6,414.9 L853.7,415.2 L853.8,415.4 L853.9,416.5 L854.0,417.0 L854.1,417.6 L854.2,418.1 L854.3,417.4 L854.4,417.3 L854.5,416.5 L854.6,416.1 L854.7,415.6 L854.8,415.0 L854.9,415.5 L855.0,415.1 L855.1,415.3 L855.2,415.8 L855.3,415.1 L855.4,413.8 L855.5,414.5 L855.6,413.4 L855.7,413.0 L855.8,413.6 L855.9,413.5 L856.0,413.4 L856.1,413.2 L856.2,413.5 L856.3,414.4 L856.4,414.5 L856.5,414.0 L856.6,413.6 L856.7,413.2 L856.8,412.6 L856.9,413.3 L857.0,413.3 L857.1,413.2 L857.2,412.6 L857.3,412.5 L857.4,412.2 L857.5,412.2 L857.6,410.8 L857.7,412.3 L857.8,412.4 L857.8,410.8 L857.9,410.7 L858.0,412.0 L858.1,412.0 L858.2,412.9 L858.3,413.4 L858.4,413.3 L858.5,412.3 L858.6,412.0 L858.7,411.4 L858.8,410.5 L858.9,410.1 L859.0,410.5 L859.1,410.3 L859.2,409.9 L859.3,409.9 L859.4,410.1 L859.5,410.1 L859.6,410.9 L859.7,411.4 L859.8,411.2 L859.9,411.2 L860.0,411.0 L860.1,409.9 L860.2,409.4 L860.3,409.2 L860.4,409.8 L860.5,410.3 L860.6,409.9 L860.7,410.2 L860.8,410.1 L860.9,411.0 L861.0,411.1 L861.1,411.3 L861.2,410.9 L861.3,411.3 L861.4,411.7 L861.5,411.7 L861.6,411.9 L861.7,410.9 L861.8,411.3 L861.9,411.8 L862.0,412.2 L862.1,412.1 L862.2,412.1 L862.3,411.8 L862.4,412.9 L862.5,411.4 L862.6,410.4 L862.7,410.6 L862.8,411.6 L862.9,411.3 L863.0,410.8 L863.1,412.1 L863.1,412.0 L863.2,412.8 L863.3,412.3 L863.4,411.2 L863.5,410.3 L863.6,411.1 L863.7,410.0 L863.8,409.2 L863.9,409.3 L864.0,408.8 L864.1,407.5 L864.2,407.6 L864.3,407.4 L864.4,407.6 L864.5,406.6 L864.6,407.9 L864.7,406.7 L864.8,407.2 L864.9,406.7 L865.0,408.0 L865.1,408.7 L865.2,409.3 L865.3,408.8 L865.4,410.0 L865.5,409.8 L865.6,410.3 L865.7,409.6 L865.8,409.9 L865.9,409.7 L866.0,409.9 L866.1,408.8 L866.2,409.2 L866.3,409.4 L866.4,408.1 L866.5,408.2 L866.6,407.8 L866.7,408.5 L866.8,408.5 L866.9,410.1 L867.0,409.8 L867.1,410.0 L867.2,410.8 L867.3,411.5 L867.4,410.5 L867.5,410.0 L867.6,410.7 L867.7,409.3 L867.8,409.5 L867.9,409.5 L868.0,409.1 L868.1,409.6 L868.2,410.5 L868.3,410.7 L868.4,409.7 L868.4,408.8 L868.5,409.7 L868.6,408.6 L868.7,408.3 L868.8,407.7 L868.9,407.4 L869.0,406.9 L869.1,407.4 L869.2,407.8 L869.3,408.1 L869.4,408.2 L869.5,407.5 L869.6,408.1 L869.7,406.8 L869.8,407.0 L869.9,407.2 L870.0,406.5 L870.1,406.0 L870.2,406.0 L870.3,406.6 L870.4,407.0 L870.5,407.9 L870.6,406.9 L870.7,406.0 L870.8,404.4 L870.9,403.8 L871.0,403.4 L871.1,402.8 L871.2,402.1 L871.3,402.3 L871.4,402.1 L871.5,400.5 L871.6,401.8 L871.7,402.8 L871.8,403.5 L871.9,403.0 L872.0,402.1 L872.1,402.4 L872.2,401.9 L872.3,402.0 L872.4,401.7 L872.5,402.2 L872.6,402.2 L872.7,402.2 L872.8,401.4 L872.9,399.7 L873.0,401.1 L873.1,400.7 L873.2,400.6 L873.3,399.9 L873.4,399.0 L873.5,398.3 L873.6,397.7 L873.6,398.3 L873.7,399.5 L873.8,398.2 L873.9,397.2 L874.0,397.9 L874.1,396.8 L874.2,396.3 L874.3,398.1 L874.4,397.3 L874.5,398.0 L874.6,397.1 L874.7,397.5 L874.8,398.0 L874.9,399.1 L875.0,399.2 L875.1,398.4 L875.2,399.2 L875.3,400.8 L875.4,399.5 L875.5,398.4 L875.6,398.1 L875.7,398.8 L875.8,399.9 L875.9,401.4 L876.0,401.3 L876.1,400.6 L876.2,401.6 L876.3,401.8 L876.4,402.3 L876.5,402.7 L876.6,402.6 L876.7,401.3 L876.8,402.1 L876.9,401.7 L877.0,401.1 L877.1,401.6 L877.2,402.0 L877.3,403.2 L877.4,402.7 L877.5,403.3 L877.6,404.0 L877.7,404.2 L877.8,404.2 L877.9,404.3 L878.0,403.9 L878.1,402.1 L878.2,401.6 L878.3,400.6 L878.4,401.0 L878.5,401.8 L878.6,399.7 L878.7,399.4 L878.8,399.8 L878.9,399.2 L879.0,398.1 L879.0,398.7 L879.1,398.7 L879.2,397.8 L879.3,398.7 L879.4,398.3 L879.5,397.8 L879.6,397.6 L879.7,398.1 L879.8,398.4 L879.9,399.1 L880.0,399.4 L880.1,399.3 L880.2,399.7 L880.3,399.2 L880.4,397.4 L880.5,398.0 L880.6,397.9 L880.7,397.5 L880.8,397.2 L880.9,397.6 L881.0,398.2 L881.1,397.6 L881.2,397.3 L881.3,397.1 L881.4,397.5 L881.5,396.8 L881.6,396.0 L881.7,395.9 L881.8,395.2 L881.9,393.3 L882.0,394.6 L882.1,393.9 L882.2,394.6 L882.3,395.5 L882.4,395.4 L882.5,394.8 L882.6,394.5 L882.7,395.2 L882.8,396.2 L882.9,396.4 L883.0,396.2 L883.1,396.6 L883.2,397.6 L883.3,396.0 L883.4,396.5 L883.5,396.3 L883.6,396.5 L883.7,396.7 L883.8,396.4 L883.9,396.4 L884.0,395.7 L884.1,396.4 L884.1,397.3 L884.2,395.5 L884.3,395.3 L884.4,394.5 L884.5,393.3 L884.6,392.5 L884.7,392.3 L884.8,393.3 L884.9,394.3 L885.0,393.3 L885.1,392.4 L885.2,391.7 L885.3,392.8 L885.4,394.3 L885.5,394.9 L885.6,395.6 L885.7,395.3 L885.8,395.8 L885.9,394.4 L886.0,394.6 L886.1,394.9 L886.2,394.0 L886.3,393.5 L886.4,394.0 L886.5,393.1 L886.6,391.3 L886.7,392.1 L886.8,392.0 L886.9,392.7 L887.0,394.0 L887.1,393.3 L887.2,392.5 L887.3,391.5 L887.4,390.9 L887.5,392.3 L887.6,392.3 L887.7,392.8 L887.8,393.7 L887.9,394.5 L888.0,393.9 L888.1,394.0 L888.2,392.4 L888.3,392.0 L888.4,393.5 L888.5,392.7 L888.6,391.6 L888.7,391.6 L888.8,392.5 L888.9,391.0 L889.0,392.0 L889.1,392.0 L889.2,393.5 L889.3,394.5 L889.3,395.8 L889.4,394.9 L889.5,393.9 L889.6,393.8 L889.7,394.5 L889.8,394.1 L889.9,393.4 L890.0,394.2 L890.1,394.7 L890.2,394.4 L890.3,393.4 L890.4,392.9 L890.5,392.1 L890.6,392.7 L890.7,394.3 L890.8,393.6 L890.9,394.0 L891.0,393.6 L891.1,393.5 L891.2,392.7 L891.3,392.9 L891.4,391.3 L891.5,390.9 L891.6,390.0 L891.7,389.9 L891.8,389.4 L891.9,389.5 L892.0,391.3 L892.1,392.2 L892.2,391.1 L892.3,391.1 L892.4,391.1 L892.5,391.1 L892.6,392.0 L892.7,392.9 L892.8,393.9 L892.9,393.3 L893.0,393.4 L893.1,392.4 L893.2,392.3 L893.3,391.2 L893.4,391.2 L893.5,392.6 L893.6,391.5 L893.7,391.7 L893.8,391.0 L893.9,391.1 L894.0,391.6 L894.1,391.8 L894.2,393.0 L894.3,394.2 L894.4,395.2 L894.5,395.9 L894.6,397.3 L894.7,397.6 L894.8,397.7 L894.9,395.5 L895.0,393.4 L895.0,392.8 L895.1,391.4 L895.2,391.0 L895.3,390.0 L895.4,389.4 L895.5,389.2 L895.6,388.5 L895.7,389.2 L895.8,388.8 L895.9,389.1 L896.0,390.0 L896.1,390.4 L896.2,389.9 L896.3,390.5 L896.4,390.1 L896.5,389.7 L896.6,388.4 L896.7,389.3 L896.8,389.4 L896.9,389.0 L897.0,387.8 L897.1,387.6 L897.2,386.9 L897.3,388.2 L897.4,388.8 L897.5,387.4 L897.6,387.6 L897.7,385.8 L897.8,386.4 L897.9,386.9 L898.0,388.4 L898.1,388.1 L898.2,388.0 L898.3,386.5 L898.4,386.5 L898.5,386.9 L898.6,388.4 L898.7,388.6 L898.8,388.0 L898.9,387.5 L899.0,386.7 L899.1,386.1 L899.2,386.3 L899.3,386.0 L899.4,386.0 L899.5,387.4 L899.6,386.1 L899.7,386.0 L899.8,387.1 L899.9,386.9 L899.9,386.8 L900.0,386.1 L900.1,385.0 L900.2,387.8 L900.3,387.5 L900.4,386.3 L900.5,387.3 L900.6,389.1 L900.7,389.0 L900.8,388.9 L900.9,388.7 L901.0,389.8 L901.1,390.4 L901.2,390.4 L901.3,389.9 L901.4,388.2 L901.5,388.1 L901.6,388.7 L901.7,390.9 L901.8,390.1 L901.9,390.4 L902.0,390.1 L902.1,390.4 L902.2,389.4 L902.3,390.4 L902.4,389.9 L902.5,389.3 L902.6,388.6 L902.7,387.0 L902.8,386.6 L902.9,386.1 L903.0,384.9 L903.1,385.8 L903.2,385.6 L903.3,385.0 L903.4,383.7 L903.5,383.9 L903.6,382.7 L903.7,381.9 L903.8,382.8 L903.9,383.6 L904.0,384.4 L904.1,384.3 L904.2,384.1 L904.3,383.4 L904.4,382.7 L904.5,383.2 L904.6,382.2 L904.7,381.4 L904.8,381.0 L904.9,380.5 L905.0,381.7 L905.1,381.3 L905.2,382.3 L905.2,383.4 L905.3,383.7 L905.4,383.5 L905.5,383.6 L905.6,383.8 L905.7,384.7 L905.8,384.6 L905.9,385.2 L906.0,386.4 L906.1,386.5 L906.2,385.5 L906.3,386.0 L906.4,387.1 L906.5,386.1 L906.6,384.8 L906.7,385.2 L906.8,385.6 L906.9,385.6 L907.0,383.1 L907.1,383.2 L907.2,382.5 L907.3,382.3 L907.4,384.1 L907.5,385.3 L907.6,386.6 L907.7,386.4 L907.8,386.5 L907.9,385.1 L908.0,385.5 L908.1,385.5 L908.2,385.6 L908.3,385.7 L908.4,383.8 L908.5,383.8 L908.6,382.7 L908.7,381.7 L908.8,382.5 L908.9,382.1 L909.0,382.7 L909.1,382.8 L909.2,382.9 L909.3,383.1 L909.4,383.7 L909.5,382.5 L909.6,383.0 L909.7,382.5 L909.8,381.1 L909.9,380.7 L910.0,379.9 L910.1,378.8 L910.2,377.9 L910.3,376.4 L910.4,377.9 L910.5,376.2 L910.6,376.4 L910.7,378.2 L910.8,379.0 L910.9,380.4 L911.0,380.6 L911.1,382.1 L911.1,383.2 L911.2,383.1 L911.3,383.1 L911.4,384.0 L911.5,384.3 L911.6,384.6 L911.7,384.7 L911.8,384.8 L911.9,385.2 L912.0,384.5 L912.1,386.1 L912.2,386.7 L912.3,386.2 L912.4,386.2 L912.5,386.3 L912.6,386.3 L912.7,385.7 L912.8,384.2 L912.9,384.0 L913.0,383.8 L913.1,383.1 L913.2,382.9 L913.3,384.3 L913.4,383.6 L913.5,383.6 L913.6,383.7 L913.7,382.7 L913.8,382.3 L913.9,382.4 L914.0,384.0 L914.1,385.2 L914.2,384.8 L914.3,384.5 L914.4,384.3 L914.5,384.4 L914.6,385.1 L914.7,386.5 L914.8,387.7 L914.9,388.1 L915.0,389.3 L915.1,388.9 L915.2,390.3 L915.2,392.0 L915.3,392.4 L915.4,394.2 L915.5,393.0 L915.6,394.1 L915.7,394.4 L915.8,394.8 L915.9,395.7 L916.0,397.4 L916.1,398.9 L916.2,398.3 L916.3,397.6 L916.4,395.9 L916.5,397.2 L916.6,396.8 L916.7,396.9 L916.8,396.3 L916.9,396.8 L917.0,396.3 L917.1,395.7 L917.2,395.2 L917.3,394.1 L917.4,394.4 L917.5,393.2 L917.6,393.8 L917.7,392.5 L917.8,394.9 L917.9,394.9 L918.0,395.7 L918.1,395.8 L918.2,395.0 L918.3,394.5 L918.4,394.5 L918.5,392.5 L918.6,393.2 L918.7,393.3 L918.8,391.5 L918.9,390.6 L919.0,391.8 L919.1,390.9 L919.2,391.3 L919.3,389.5 L919.4,387.9 L919.5,387.8 L919.6,386.1 L919.7,386.2 L919.8,384.8 L919.9,383.6 L920.0,383.1 L920.1,383.8 L920.2,383.4 L920.3,384.9 L920.4,384.8 L920.5,385.8 L920.6,384.7 L920.7,385.4 L920.8,387.5 L920.9,386.9 L920.9,386.5 L921.0,386.8 L921.1,384.9 L921.2,384.1 L921.3,383.9 L921.4,384.4 L921.5,386.9 L921.6,386.4 L921.7,385.5 L921.8,385.9 L921.9,387.1 L922.0,387.0 L922.1,388.4 L922.2,388.3 L922.3,387.5 L922.4,386.1 L922.5,385.8 L922.6,385.8 L922.7,385.4 L922.8,384.3 L922.9,384.8 L923.0,386.2 L923.1,387.1 L923.2,388.4 L923.3,389.4 L923.4,389.7 L923.5,389.6 L923.6,389.7 L923.7,389.8 L923.8,390.3 L923.9,390.2 L924.0,389.6 L924.1,389.2 L924.2,388.1 L924.3,388.5 L924.4,389.0 L924.5,387.7 L924.6,387.7 L924.7,387.6 L924.8,388.1 L924.9,387.5 L925.0,388.1 L925.1,389.2 L925.2,389.4 L925.3,390.0 L925.4,389.5 L925.5,390.1 L925.6,390.2 L925.7,390.6 L925.8,390.5 L925.9,391.2 L926.0,390.5 L926.1,391.9 L926.2,392.5 L926.2,393.3 L926.3,392.9 L926.4,393.1 L926.5,392.9 L926.6,393.4 L926.7,394.6 L926.8,396.2 L926.9,397.1 L927.0,398.2 L927.1,398.6 L927.2,398.9 L927.3,398.7 L927.4,399.4 L927.5,400.0 L927.6,400.9 L927.7,400.8 L927.8,400.5 L927.9,399.0 L928.0,398.9 L928.1,397.5 L928.2,396.0 L928.3,396.8 L928.4,395.9 L928.5,394.9 L928.6,393.8 L928.7,393.8 L928.8,392.7 L928.9,392.7 L929.0,392.4 L929.1,392.1 L929.2,390.2 L929.3,390.0 L929.4,388.8 L929.5,388.4 L929.6,388.6 L929.7,388.0 L929.8,387.1 L929.9,387.3 L930.0,386.4 L930.1,386.7 L930.2,387.1 L930.3,386.5 L930.4,386.3 L930.5,386.8 L930.6,387.9 L930.7,387.5 L930.8,386.9 L930.9,387.4 L931.0,387.3 L931.1,388.7 L931.2,388.5 L931.3,388.2 L931.4,388.1 L931.5,388.7 L931.5,388.8 L931.6,388.7 L931.7,387.9 L931.8,387.8 L931.9,387.6 L932.0,388.4 L932.1,387.7 L932.2,386.8 L932.3,387.3 L932.4,386.9 L932.5,386.7 L932.6,386.8 L932.7,388.0 L932.8,386.6 L932.9,388.2 L933.0,388.0 L933.1,388.3 L933.2,387.3 L933.3,387.6 L933.4,387.6 L933.5,387.1 L933.6,386.6 L933.7,387.1 L933.8,386.5 L933.9,386.1 L934.0,385.2 L934.1,385.7 L934.2,385.7 L934.3,386.1 L934.4,386.8 L934.5,386.6 L934.6,386.2 L934.7,384.9 L934.8,385.2 L934.9,384.9 L935.0,383.9 L935.1,384.2 L935.2,384.2 L935.3,384.2 L935.4,384.9 L935.5,385.9 L935.6,385.0 L935.7,385.0 L935.8,385.2 L935.9,386.4 L936.0,386.4 L936.1,385.4 L936.2,386.6 L936.3,387.5 L936.4,386.6 L936.5,385.4 L936.6,384.1 L936.7,384.8 L936.7,384.3 L936.8,385.1 L936.9,384.8 L937.0,384.9 L937.1,384.6 L937.2,383.3 L937.3,382.8 L937.4,382.9 L937.5,382.7 L937.6,382.3 L937.7,382.6 L937.8,382.3 L937.9,381.6 L938.0,380.0 L938.1,381.7 L938.2,382.7 L938.3,383.7 L938.4,382.7 L938.5,380.3 L938.6,380.0 L938.7,379.7 L938.8,378.5 L938.9,380.7 L939.0,380.7 L939.1,383.8 L939.2,383.9 L939.3,384.6 L939.4,385.3 L939.5,385.2 L939.6,386.0 L939.7,385.3 L939.8,385.5 L939.9,385.4 L940.0,383.4 L940.1,384.1 L940.2,383.5 L940.3,384.5 L940.4,383.6 L940.5,383.0 L940.6,383.1 L940.7,382.5 L940.8,381.3 L940.9,380.3 L941.0,380.5 L941.1,380.8 L941.2,379.8 L941.3,381.1 L941.4,381.6 L941.5,381.1 L941.6,380.5 L941.7,378.7 L941.8,377.0 L941.9,376.7 L942.0,376.2 L942.0,377.4 L942.1,377.5 L942.2,377.2 L942.3,377.4 L942.4,377.3 L942.5,376.7 L942.6,377.5 L942.7,378.0 L942.8,379.6 L942.9,378.5 L943.0,379.5 L943.1,381.0 L943.2,380.6 L943.3,381.1 L943.4,380.5 L943.5,381.1 L943.6,379.4 L943.7,379.1 L943.8,379.2 L943.9,379.4 L944.0,379.9 L944.1,379.4 L944.2,377.9 L944.3,378.6 L944.4,379.9 L944.5,379.6 L944.6,378.9 L944.7,380.6 L944.8,381.5 L944.9,382.7 L945.0,382.5 L945.1,382.3 L945.2,383.3 L945.3,384.0 L945.4,383.0 L945.5,384.5 L945.6,383.6 L945.7,383.4 L945.8,381.3 L945.9,380.1 L946.0,380.3 L946.1,380.2 L946.2,380.1 L946.3,380.4 L946.4,380.0 L946.5,378.8 L946.6,379.8 L946.7,379.7 L946.8,377.9 L946.9,376.9 L947.0,377.3 L947.1,377.7 L947.2,378.2 L947.3,379.3 L947.3,378.0 L947.4,377.7 L947.5,378.2 L947.6,379.3 L947.7,379.5 L947.8,379.7 L947.9,377.9 L948.0,378.1 L948.1,377.8 L948.2,376.6 L948.3,375.7 L948.4,375.7 L948.5,377.6 L948.6,376.0 L948.7,375.2 L948.8,375.4 L948.9,375.3 L949.0,376.0 L949.1,376.6 L949.2,377.8 L949.3,377.1 L949.4,376.7 L949.5,376.6 L949.6,375.9 L949.7,375.4 L949.8,375.4 L949.9,376.3 L950.0,375.8 L950.1,374.7 L950.2,374.1 L950.3,373.0 L950.4,373.5 L950.5,374.5 L950.6,373.3 L950.7,374.0 L950.8,373.8 L950.9,374.0 L951.0,374.1 L951.1,374.4 L951.2,375.0 L951.3,376.7 L951.4,375.0 L951.5,374.3 L951.6,375.6 L951.7,376.0 L951.8,376.6 L951.9,376.8 L952.0,378.8 L952.1,377.7 L952.2,375.7 L952.3,375.5 L952.4,374.3 L952.5,373.2 L952.5,373.9 L952.6,372.3 L952.7,373.4 L952.8,373.5 L952.9,373.3 L953.0,371.6 L953.1,371.0 L953.2,370.6 L953.3,370.9 L953.4,370.3 L953.5,370.7 L953.6,370.4 L953.7,369.5 L953.8,369.2 L953.9,369.6 L954.0,370.2 L954.1,369.0 L954.2,369.3 L954.3,369.7 L954.4,368.4 L954.5,367.2 L954.6,367.1 L954.7,367.7 L954.8,368.7 L954.9,368.1 L955.0,369.0 L955.1,368.5 L955.2,369.7 L955.3,370.1 L955.4,370.1 L955.5,370.4 L955.6,370.0 L955.7,369.4 L955.8,370.4 L955.9,371.3 L956.0,371.3 L956.1,369.3 L956.2,369.2 L956.3,370.0 L956.4,370.5 L956.5,370.3 L956.6,368.9 L956.7,369.3 L956.8,368.6 L956.9,368.2 L957.0,368.4 L957.1,369.1 L957.2,369.1 L957.3,369.7 L957.4,369.0 L957.5,370.5 L957.6,369.2 L957.7,368.4 L957.8,367.8 L957.8,366.2 L957.9,365.6 L958.0,367.3 L958.1,367.2 L958.2,366.7 L958.3,367.3 L958.4,368.4 L958.5,368.0 L958.6,367.4 L958.7,367.8 L958.8,368.0 L958.9,368.4 L959.0,369.0 L959.1,369.0 L959.2,367.9 L959.3,369.4 L959.4,369.7 L959.5,368.1 L959.6,367.7 L959.7,367.2 L959.8,366.0 L959.9,366.7 L960.0,367.6 L960.1,368.9 L960.2,370.0 L960.3,369.5 L960.4,368.3 L960.5,368.3 L960.6,368.7 L960.7,367.9 L960.8,367.0 L960.9,366.4 L961.0,368.0 L961.1,368.2 L961.2,370.4 L961.3,369.8 L961.4,370.3 L961.5,370.6 L961.6,368.8 L961.7,367.1 L961.8,366.5 L961.9,366.1 L962.0,365.8 L962.1,366.3 L962.2,366.3 L962.3,364.2 L962.4,365.0 L962.5,365.5 L962.6,365.3 L962.7,364.2 L962.8,363.3 L962.9,364.2 L963.0,364.2 L963.0,364.3 L963.1,365.5 L963.2,365.3 L963.3,365.7 L963.4,364.6 L963.5,364.1 L963.6,364.8 L963.7,364.6 L963.8,364.9 L963.9,365.6 L964.0,366.1 L964.1,365.0 L964.2,365.4 L964.3,367.1 L964.4,367.9 L964.5,367.1 L964.6,364.9 L964.7,366.0 L964.8,366.4 L964.9,366.7 L965.0,368.1 L965.1,367.7 L965.2,367.8 L965.3,367.5 L965.4,365.2 L965.5,365.5 L965.6,364.7 L965.7,363.8 L965.8,364.4 L965.9,365.5 L966.0,364.3 L966.1,363.9 L966.2,364.2 L966.3,365.7 L966.4,365.2 L966.5,365.1 L966.6,363.3 L966.7,362.1 L966.8,361.7 L966.9,361.8 L967.0,362.2 L967.1,363.2 L967.2,363.3 L967.3,363.4 L967.4,363.2 L967.5,362.5 L967.6,362.5 L967.7,363.5 L967.8,363.1 L967.9,361.9 L968.0,362.8 L968.1,362.3 L968.2,361.7 L968.3,361.1 L968.3,360.6 L968.4,360.7 L968.5,360.8 L968.6,359.0 L968.7,357.1 L968.8,358.6 L968.9,361.3 L969.0,360.8 L969.1,361.5 L969.2,362.1 L969.3,363.7 L969.4,363.3 L969.5,363.4 L969.6,363.9 L969.7,363.0 L969.8,360.4 L969.9,358.8 L970.0,357.6 L970.1,358.0 L970.2,357.3 L970.3,357.3 L970.4,356.0 L970.5,355.3 L970.6,355.4 L970.7,354.7 L970.8,355.5 L970.9,354.6 L971.0,352.9 L971.1,353.3 L971.2,352.7 L971.3,354.5 L971.4,353.4 L971.5,352.4 L971.6,353.6 L971.7,351.6 L971.8,351.4 L971.9,353.4 L972.0,354.9 L972.1,354.0 L972.2,354.4 L972.3,353.3 L972.4,355.2 L972.5,355.4 L972.6,354.4 L972.7,355.3 L972.8,354.7 L972.9,355.2 L973.0,354.9 L973.1,354.7 L973.2,352.3 L973.3,353.8 L973.4,353.1 L973.5,351.7 L973.6,353.1 L973.6,353.1 L973.7,350.7 L973.8,349.6 L973.9,353.1 L974.0,353.5 L974.1,354.4 L974.2,353.1 L974.3,353.0 L974.4,352.6 L974.5,352.6 L974.6,351.3 L974.7,350.9 L974.8,350.9 L974.9,350.2 L975.0,348.8 L975.1,348.8 L975.2,346.5 L975.3,347.4 L975.4,346.0 L975.5,345.4 L975.6,342.5 L975.7,342.3 L975.8,342.0 L975.9,342.6 L976.0,342.1 L976.1,343.2 L976.2,346.2 L976.3,348.4 L976.4,351.2 L976.5,351.2 L976.6,352.5 L976.7,356.4 L976.8,357.9 L976.9,358.5 L977.0,358.0 L977.1,356.9 L977.2,356.5 L977.3,355.7 L977.4,354.9 L977.5,355.1 L977.6,354.1 L977.7,353.4 L977.8,352.9 L977.9,353.1 L978.0,353.6 L978.1,352.8 L978.2,351.3 L978.3,353.8 L978.4,354.3 L978.5,352.7 L978.6,351.5 L978.7,352.2 L978.8,350.5 L978.9,351.5 L978.9,352.2 L979.0,349.9 L979.1,350.2 L979.2,350.4 L979.3,352.1 L979.4,353.1 L979.5,354.3 L979.6,354.3 L979.7,356.2 L979.8,354.9 L979.9,355.1 L980.0,355.6 L980.1,356.2 L980.2,355.3 L980.3,353.7 L980.4,354.3 L980.5,352.6 L980.6,350.9 L980.7,349.5 L980.8,349.3 L980.9,351.2 L981.0,350.6 L981.1,351.2 L981.2,351.1 L981.3,353.3 L981.4,353.8 L981.5,353.7 L981.6,354.8 L981.7,354.6 L981.8,352.9 L981.9,352.8 L982.0,353.7 L982.1,351.2 L982.2,353.7 L982.3,354.9 L982.4,354.4 L982.5,355.0 L982.6,357.5 L982.7,357.2 L982.8,356.3 L982.9,357.1 L983.0,355.5 L983.1,354.9 L983.2,353.6 L983.3,355.3 L983.4,355.3 L983.5,353.5 L983.6,351.2 L983.7,349.7 L983.8,349.6 L983.9,349.4 L984.0,350.1 L984.1,348.8 L984.1,349.6 L984.2,349.4 L984.3,351.8 L984.4,353.0 L984.5,350.6 L984.6,350.0 L984.7,349.3 L984.8,351.4 L984.9,351.0 L985.0,348.1 L985.1,349.4 L985.2,351.6 L985.3,351.4 L985.4,351.5 L985.5,351.3 L985.6,352.3 L985.7,353.4 L985.8,354.3 L985.9,353.1 L986.0,352.7 L986.1,351.4 L986.2,352.1 L986.3,351.0 L986.4,351.1 L986.5,350.5 L986.6,348.9 L986.7,348.4 L986.8,348.3 L986.9,349.7 L987.0,349.2 L987.1,347.8 L987.2,348.0 L987.3,347.6 L987.4,349.1 L987.5,350.2 L987.6,349.2 L987.7,347.2 L987.8,347.1 L987.9,348.5 L988.0,348.5 L988.1,349.8 L988.2,349.6 L988.3,346.9 L988.4,346.0 L988.5,345.7 L988.6,344.3 L988.7,344.5 L988.8,343.9 L988.9,343.4 L989.0,342.6 L989.1,344.2 L989.2,343.1 L989.3,341.8 L989.4,344.3 L989.4,347.3 L989.5,348.1 L989.6,346.1 L989.7,345.9 L989.8,344.8 L989.9,343.9 L990.0,342.6 L990.1,343.2 L990.2,343.6 L990.3,342.9 L990.4,342.0 L990.5,341.0 L990.6,340.3 L990.7,340.6 L990.8,338.9 L990.9,338.0 L991.0,336.3 L991.1,339.2 L991.2,337.6 L991.3,340.3 L991.4,339.7 L991.5,340.2 L991.6,339.8 L991.7,340.0 L991.8,340.1 L991.9,339.5 L992.0,339.3 L992.1,340.6 L992.2,343.9 L992.3,345.0 L992.4,344.6 L992.5,345.8 L992.6,345.6 L992.7,346.2 L992.8,347.6 L992.9,346.4 L993.0,344.7 L993.1,345.0 L993.2,345.3 L993.3,344.4 L993.4,346.2 L993.5,347.5 L993.6,346.4 L993.7,345.5 L993.8,346.3 L993.9,347.5 L994.0,347.3 L994.1,349.2 L994.2,350.0 L994.3,350.5 L994.4,353.5 L994.5,353.0 L994.6,352.4 L994.6,351.4 L994.7,352.8 L994.8,354.0 L994.9,354.7 L995.0,356.0 L995.1,353.4 L995.2,354.3 L995.3,354.5 L995.4,354.0 L995.5,353.3 L995.6,351.4 L995.7,352.4 L995.8,351.2 L995.9,350.8 L996.0,351.9 L996.1,351.5 L996.2,352.9 L996.3,350.8 L996.4,351.4 L996.5,350.0 L996.6,348.3 L996.7,348.8 L996.8,351.3 L996.9,352.6 L997.0,355.3 L997.1,355.7 L997.2,356.9 L997.3,359.2 L997.4,361.3 L997.5,361.9 L997.6,364.8 L997.7,364.4 L997.8,366.5 L997.9,368.1 L998.0,370.3 L998.1,370.0 L998.2,370.4 L998.3,370.4 L998.4,371.0 L998.5,370.1 L998.6,367.6 L998.7,366.0 L998.8,364.7 L998.9,363.3 L999.0,361.6 L999.1,360.4 L999.2,359.7 L999.3,360.6 L999.4,357.4 L999.5,357.9 L999.6,359.4 L999.7,359.3 L999.8,356.3 L999.8,354.0 L999.9,353.7 L1000.0,352.5 L1000.1,351.6 L1000.2,352.9 L1000.3,352.4 L1000.4,351.1 L1000.5,348.8 L1000.6,349.2 L1000.7,350.9 L1000.8,351.8 L1000.9,351.3 L1001.0,351.1 L1001.1,350.7 L1001.2,350.4 L1001.3,350.7 L1001.4,352.2 L1001.5,351.5 L1001.6,350.9 L1001.7,350.1 L1001.8,348.5 L1001.9,349.8 L1002.0,352.4 L1002.1,354.3 L1002.2,351.7 L1002.3,352.6 L1002.4,352.0 L1002.5,351.9 L1002.6,350.9 L1002.7,346.9 L1002.8,347.4 L1002.9,347.5 L1003.0,348.1 L1003.1,347.8 L1003.2,347.1 L1003.3,348.2 L1003.4,346.6 L1003.5,345.1 L1003.6,344.6 L1003.7,344.6 L1003.8,344.9 L1003.9,346.8 L1004.0,346.0 L1004.1,347.1 L1004.2,347.6 L1004.3,346.4 L1004.4,347.4 L1004.5,348.0 L1004.6,346.9 L1004.7,344.6 L1004.8,345.4 L1004.9,344.0 L1005.0,344.7 L1005.1,344.0 L1005.1,343.1 L1005.2,344.2 L1005.3,342.7 L1005.4,340.1 L1005.5,339.8 L1005.6,339.1 L1005.7,340.3 L1005.8,337.7 L1005.9,337.4 L1006.0,338.7 L1006.1,337.4 L1006.2,339.0 L1006.3,339.5 L1006.4,341.9 L1006.5,339.9 L1006.6,336.8 L1006.7,337.3 L1006.8,337.8 L1006.9,338.2 L1007.0,338.6 L1007.1,338.8 L1007.2,337.7 L1007.3,339.8 L1007.4,340.0 L1007.5,343.0 L1007.6,342.0 L1007.7,342.8 L1007.8,344.5 L1007.9,343.4 L1008.0,344.3 L1008.1,343.4 L1008.2,342.9 L1008.3,341.6 L1008.4,343.4 L1008.5,344.1 L1008.6,344.4 L1008.7,345.4 L1008.8,344.3 L1008.9,346.0 L1009.0,345.5 L1009.1,344.6 L1009.2,347.7 L1009.3,349.6 L1009.4,350.0 L1009.5,349.8 L1009.6,348.6 L1009.7,348.1 L1009.8,347.2 L1009.9,347.0 L1009.9,346.3 L1010.0,344.9 L1010.1,343.2 L1010.2,343.4 L1010.3,342.8 L1010.4,342.9 L1010.5,342.3 L1010.6,343.3 L1010.7,341.3 L1010.8,339.7 L1010.9,339.1 L1011.0,339.1 L1011.1,338.9 L1011.2,339.5 L1011.3,341.2 L1011.4,338.9 L1011.5,334.4 L1011.6,335.8 L1011.7,337.0 L1011.8,336.1 L1011.9,335.1 L1012.0,336.8 L1012.1,339.0 L1012.2,338.1 L1012.3,340.4 L1012.4,338.4 L1012.5,338.8 L1012.6,338.4 L1012.7,338.2 L1012.8,338.6 L1012.9,338.6 L1013.0,338.7 L1013.1,336.9 L1013.2,336.8 L1013.3,337.2 L1013.4,338.1 L1013.5,339.2 L1013.6,340.5 L1013.7,340.8 L1013.8,338.8 L1013.9,337.7 L1014.0,337.7 L1014.1,335.9 L1014.2,334.9 L1014.3,334.9 L1014.4,335.4 L1014.5,337.2 L1014.6,337.2 L1014.7,337.9 L1014.8,340.2 L1014.9,342.1 L1015.0,340.0 L1015.1,340.0 L1015.2,339.7 L1015.3,339.7 L1015.4,340.5 L1015.5,340.0 L1015.6,338.8 L1015.7,339.3 L1015.7,338.8 L1015.8,337.6 L1015.9,338.4 L1016.0,338.3 L1016.1,339.3 L1016.2,338.7 L1016.3,339.3 L1016.4,338.0 L1016.5,339.1 L1016.6,337.1 L1016.7,337.6 L1016.8,338.8 L1016.9,340.1 L1017.0,339.4 L1017.1,340.6 L1017.2,338.5 L1017.3,337.0 L1017.4,336.0 L1017.5,337.5 L1017.6,337.2 L1017.7,337.8 L1017.8,339.8 L1017.9,338.9 L1018.0,335.8 L1018.1,336.2 L1018.2,334.8 L1018.3,332.9 L1018.4,333.8 L1018.5,333.9 L1018.6,333.2 L1018.7,332.3 L1018.8,333.5 L1018.9,332.9 L1019.0,332.7 L1019.1,331.1 L1019.2,332.9 L1019.3,333.3 L1019.4,333.6 L1019.5,334.1 L1019.6,333.2 L1019.7,334.0 L1019.8,330.5 L1019.9,331.4 L1020.0,330.3 L1020.1,329.0 L1020.2,327.7 L1020.3,328.0 L1020.4,329.2 L1020.5,329.6 L1020.6,328.7 L1020.7,328.6 L1020.8,327.8 L1020.9,327.1 L1021.0,328.3 L1021.0,329.6 L1021.1,327.7 L1021.2,328.3 L1021.3,330.5 L1021.4,328.0 L1021.5,328.9 L1021.6,329.9 L1021.7,328.3 L1021.8,329.6 L1021.9,330.5 L1022.0,328.8 L1022.1,329.7 L1022.2,326.0 L1022.3,325.6 L1022.4,321.6 L1022.5,321.2 L1022.6,320.8 L1022.7,321.5 L1022.8,321.5 L1022.9,321.9 L1023.0,321.7 L1023.1,320.3 L1023.2,321.9 L1023.3,322.9 L1023.4,325.5 L1023.5,323.1 L1023.6,323.7 L1023.7,324.2 L1023.8,324.7 L1023.9,323.8 L1024.0,323.8 L1024.1,323.0 L1024.2,323.7 L1024.3,324.3 L1024.4,324.9 L1024.5,327.8 L1024.6,326.8 L1024.7,329.4 L1024.8,331.1 L1024.9,330.7 L1025.0,331.0 L1025.1,330.4 L1025.2,328.5 L1025.3,326.5 L1025.4,325.0 L1025.5,325.8 L1025.6,323.4 L1025.7,324.0 L1025.8,323.5 L1025.9,321.4 L1025.9,321.1 L1026.0,320.6 L1026.1,320.4 L1026.2,317.8 L1026.3,320.7 L1026.4,318.2 L1026.5,316.0 L1026.6,315.5 L1026.7,314.0 L1026.8,314.7 L1026.9,316.9 L1027.0,316.2 L1027.1,321.2 L1027.2,322.9 L1027.3,326.6 L1027.4,330.6 L1027.5,334.6 L1027.6,338.2 L1027.7,342.6 L1027.8,347.1 L1027.9,347.8 L1028.0,350.5 L1028.1,352.5 L1028.2,354.8 L1028.3,356.9 L1028.4,361.1 L1028.5,364.5 L1028.6,366.3 L1028.7,367.6 L1028.8,371.1 L1028.9,374.0 L1029.0,377.2 L1029.1,375.5 L1029.2,374.0 L1029.3,372.8 L1029.4,372.3 L1029.5,370.8 L1029.6,369.5 L1029.7,369.1 L1029.8,367.6 L1029.9,367.0 L1030.0,364.8 L1030.1,362.9 L1030.2,362.4 L1030.3,360.5 L1030.4,359.1 L1030.5,358.6 L1030.6,358.3 L1030.7,358.9 L1030.8,358.8 L1030.9,357.1 L1031.0,354.5 L1031.1,353.8 L1031.2,352.3 L1031.3,350.5 L1031.4,348.2 L1031.5,346.3 L1031.6,343.4 L1031.6,341.0 L1031.7,340.5 L1031.8,339.9 L1031.9,342.6 L1032.0,342.7 L1032.1,342.5 L1032.2,341.7 L1032.3,341.9 L1032.4,340.7 L1032.5,338.9 L1032.6,339.8 L1032.7,340.3 L1032.8,339.9 L1032.9,339.1 L1033.0,338.8 L1033.1,337.6 L1033.2,338.9 L1033.3,337.8 L1033.4,336.1 L1033.5,334.5 L1033.6,333.8 L1033.7,334.0 L1033.8,333.3 L1033.9,332.7 L1034.0,334.1 L1034.1,334.2 L1034.2,333.6 L1034.3,333.6 L1034.4,334.1 L1034.5,333.7 L1034.6,333.5 L1034.7,332.7 L1034.8,332.1 L1034.9,331.2 L1035.0,329.2 L1035.1,328.3 L1035.2,327.0 L1035.3,328.0 L1035.4,331.2 L1035.5,331.0 L1035.6,329.4 L1035.7,329.2 L1035.8,329.3 L1035.9,330.3 L1036.0,328.9 L1036.1,329.3 L1036.2,328.8 L1036.3,327.1 L1036.4,326.1 L1036.5,322.8 L1036.6,322.8 L1036.7,321.2 L1036.7,320.0 L1036.8,320.7 L1036.9,320.4 L1037.0,320.9 L1037.1,322.2 L1037.2,321.5 L1037.3,322.4 L1037.4,319.8 L1037.5,320.6 L1037.6,321.1 L1037.7,320.8 L1037.8,321.3 L1037.9,321.0 L1038.0,321.2 L1038.1,322.5 L1038.2,325.2 L1038.3,326.3 L1038.4,323.6 L1038.5,322.3 L1038.6,321.5 L1038.7,321.5 L1038.8,321.0 L1038.9,319.9 L1039.0,321.2 L1039.1,321.7 L1039.2,322.3 L1039.3,319.9 L1039.4,320.7 L1039.5,318.4 L1039.6,318.4 L1039.7,313.8 L1039.8,313.2 L1039.9,312.5 L1040.0,309.8 L1040.1,307.8 L1040.2,305.7 L1040.3,306.6 L1040.4,304.1 L1040.5,303.4 L1040.6,305.5 L1040.7,308.0 L1040.8,311.5 L1040.9,311.8 L1041.0,313.2 L1041.1,314.9 L1041.2,318.4 L1041.3,317.9 L1041.4,318.4 L1041.5,320.1 L1041.6,319.8 L1041.7,322.8 L1041.8,321.4 L1041.8,322.7 L1041.9,320.5 L1042.0,320.8 L1042.1,318.9 L1042.2,319.3 L1042.3,318.6 L1042.4,316.8 L1042.5,318.0 L1042.6,317.7 L1042.7,318.7 L1042.8,317.3 L1042.9,318.0 L1043.0,318.4 L1043.1,318.5 L1043.2,316.7 L1043.3,318.1 L1043.4,317.9 L1043.5,318.2 L1043.6,318.9 L1043.7,319.8 L1043.8,319.9 L1043.9,319.5 L1044.0,321.5 L1044.1,321.0 L1044.2,321.8 L1044.3,320.9 L1044.4,316.8 L1044.5,317.3 L1044.6,316.5 L1044.7,316.0 L1044.8,313.7 L1044.9,313.4 L1045.0,315.1 L1045.1,316.6 L1045.2,315.4 L1045.3,314.2 L1045.4,311.7 L1045.5,311.6 L1045.6,309.6 L1045.7,310.3 L1045.8,307.4 L1045.9,306.6 L1046.0,306.7 L1046.1,305.5 L1046.2,301.9 L1046.3,302.2 L1046.4,303.1 L1046.5,303.6 L1046.6,304.4 L1046.7,303.5 L1046.8,302.0 L1046.9,301.2 L1047.0,299.9 L1047.1,297.0 L1047.2,296.4 L1047.3,297.4 L1047.3,300.0 L1047.4,298.6 L1047.5,298.6 L1047.6,298.0 L1047.7,296.3 L1047.8,294.6 L1047.9,296.0 L1048.0,296.5 L1048.1,295.4 L1048.2,294.6 L1048.3,292.8 L1048.4,293.7 L1048.5,297.1 L1048.6,295.3 L1048.7,298.0 L1048.8,299.7 L1048.9,299.1 L1049.0,300.9 L1049.1,297.1 L1049.2,296.8 L1049.3,296.0 L1049.4,296.8 L1049.5,293.3 L1049.6,292.5 L1049.7,293.8 L1049.8,291.9 L1049.9,294.7 L1050.0,295.7 L1050.1,295.4 L1050.2,295.2 L1050.3,296.8 L1050.4,294.3 L1050.5,291.9 L1050.6,293.5 L1050.7,292.9 L1050.8,293.9 L1050.9,294.6 L1051.0,293.0 L1051.1,292.8 L1051.2,293.0 L1051.3,292.8 L1051.4,294.7 L1051.5,292.8 L1051.6,294.0 L1051.7,291.9 L1051.8,292.6 L1051.9,293.3 L1052.0,290.9 L1052.1,290.6 L1052.2,291.7 L1052.3,292.5 L1052.4,291.6 L1052.5,288.7 L1052.5,287.8 L1052.6,288.6 L1052.7,290.6 L1052.8,291.9 L1052.9,292.3 L1053.0,292.0 L1053.1,293.2 L1053.2,291.3 L1053.3,293.0 L1053.4,294.4 L1053.5,293.7 L1053.6,293.1 L1053.7,293.9 L1053.8,292.5 L1053.9,294.9 L1054.0,292.4 L1054.1,289.0 L1054.2,285.9 L1054.3,285.9 L1054.4,282.7 L1054.5,282.0 L1054.6,279.1 L1054.7,278.8 L1054.8,277.8 L1054.9,276.3 L1055.0,278.7 L1055.1,278.4 L1055.2,274.8 L1055.3,279.2 L1055.4,277.9 L1055.5,275.7 L1055.6,274.4 L1055.7,273.4 L1055.8,270.3 L1055.9,269.0 L1056.0,271.8 L1056.1,272.8 L1056.2,272.7 L1056.3,271.8 L1056.4,271.9 L1056.5,271.4 L1056.6,268.3 L1056.7,273.4 L1056.8,271.2 L1056.9,269.4 L1057.0,268.2 L1057.1,268.0 L1057.2,267.8 L1057.3,267.0 L1057.4,266.4 L1057.5,267.6 L1057.6,266.0 L1057.7,267.4 L1057.8,267.3 L1057.8,267.9 L1057.9,269.8 L1058.0,268.6 L1058.1,268.6 L1058.2,270.5 L1058.3,270.5 L1058.4,272.9 L1058.5,270.2 L1058.6,269.4 L1058.7,265.9 L1058.8,267.0 L1058.9,265.8 L1059.0,267.7 L1059.1,269.4 L1059.2,269.6 L1059.3,269.0 L1059.4,267.4 L1059.5,268.0 L1059.6,266.1 L1059.7,264.5 L1059.8,266.2 L1059.9,266.6 L1060.0,268.4 L1060.1,265.4 L1060.2,266.5 L1060.3,265.0 L1060.4,263.5 L1060.5,264.0 L1060.6,265.1 L1060.7,264.2 L1060.8,265.4 L1060.9,267.4 L1061.0,268.9 L1061.1,268.1 L1061.2,267.5 L1061.3,264.0 L1061.4,267.1 L1061.5,266.0 L1061.6,267.8 L1061.7,265.5 L1061.8,264.0 L1061.9,263.5 L1062.0,260.5 L1062.1,261.0 L1062.2,261.7 L1062.3,263.4 L1062.4,264.4 L1062.5,263.9 L1062.6,262.4 L1062.7,259.8 L1062.8,259.0 L1062.9,259.0 L1063.0,258.3 L1063.0,257.8 L1063.1,257.3 L1063.2,256.8 L1063.3,257.1 L1063.4,255.8 L1063.5,255.5 L1063.6,254.5 L1063.7,255.8 L1063.8,254.1 L1063.9,251.7 L1064.0,249.0 L1064.1,248.7 L1064.2,249.6 L1064.3,250.7 L1064.4,251.6 L1064.5,251.5 L1064.6,250.7 L1064.7,252.8 L1064.8,252.4 L1064.9,256.3 L1065.0,258.4 L1065.1,260.7 L1065.2,260.0 L1065.3,257.4 L1065.4,258.9 L1065.5,260.3 L1065.6,261.9 L1065.7,263.2 L1065.8,264.3 L1065.9,260.6 L1066.0,263.5 L1066.1,264.6 L1066.2,265.7 L1066.3,264.7 L1066.4,265.4 L1066.5,264.0 L1066.6,265.7 L1066.7,261.5 L1066.8,260.8 L1066.9,263.7 L1067.0,262.1 L1067.1,262.6 L1067.2,264.4 L1067.3,263.3 L1067.4,263.9 L1067.5,262.3 L1067.6,263.0 L1067.7,261.0 L1067.8,260.4 L1067.9,259.4 L1068.0,258.8 L1068.1,259.1 L1068.2,259.5 L1068.3,258.3 L1068.4,256.7 L1068.5,257.1 L1068.5,252.5 L1068.6,248.9 L1068.7,250.8 L1068.8,248.3 L1068.9,248.9 L1069.0,248.8 L1069.1,250.7 L1069.2,247.9 L1069.3,249.8 L1069.4,250.4 L1069.5,252.2 L1069.6,248.8 L1069.7,246.7 L1069.8,249.7 L1069.9,250.9 L1070.0,250.6 L1070.1,251.8 L1070.2,252.9 L1070.3,255.3 L1070.4,255.2 L1070.5,257.6 L1070.6,256.4 L1070.7,252.2 L1070.8,253.2 L1070.9,250.4 L1071.0,249.0 L1071.1,249.6 L1071.2,249.5 L1071.3,250.7 L1071.4,249.7 L1071.5,247.6 L1071.6,245.1 L1071.7,244.9 L1071.8,246.5 L1071.9,246.0 L1072.0,241.9 L1072.1,240.6 L1072.2,240.0 L1072.3,243.4 L1072.4,243.5 L1072.5,241.7 L1072.6,242.9 L1072.7,239.4 L1072.8,239.8 L1072.9,240.8 L1073.0,241.3 L1073.1,240.7 L1073.2,238.0 L1073.3,240.4 L1073.4,245.2 L1073.5,246.6 L1073.6,246.8 L1073.7,245.1 L1073.8,248.5 L1073.9,246.9 L1074.0,246.8 L1074.1,247.2 L1074.2,249.9 L1074.2,252.9 L1074.3,255.9 L1074.4,255.3 L1074.5,256.1 L1074.6,255.3 L1074.7,253.1 L1074.8,254.3 L1074.9,255.6 L1075.0,253.2 L1075.1,255.7 L1075.2,256.6 L1075.3,257.4 L1075.4,258.1 L1075.5,257.9 L1075.6,259.5 L1075.7,257.4 L1075.8,260.0 L1075.9,261.6 L1076.0,264.7 L1076.1,267.3 L1076.2,266.3 L1076.3,265.2 L1076.4,265.6 L1076.5,264.1 L1076.6,263.1 L1076.7,264.2 L1076.8,264.3 L1076.9,263.7 L1077.0,260.1 L1077.1,260.9 L1077.2,259.8 L1077.3,258.4 L1077.4,255.7 L1077.5,254.4 L1077.6,251.9 L1077.7,253.5 L1077.8,253.6 L1077.9,256.8 L1078.0,256.5 L1078.1,251.6 L1078.2,250.7 L1078.3,250.1 L1078.4,249.1 L1078.5,248.4 L1078.6,250.5 L1078.7,251.4 L1078.8,251.3 L1078.8,250.5 L1078.9,251.7 L1079.0,251.5 L1079.1,252.4 L1079.2,256.0 L1079.3,258.2 L1079.4,260.7 L1079.5,260.2 L1079.6,258.7 L1079.7,258.7 L1079.8,260.1 L1079.9,262.1 L1080.0,265.9 L1080.1,267.8 L1080.2,266.0 L1080.3,264.9 L1080.4,265.5 L1080.5,266.9 L1080.6,267.9 L1080.7,268.1 L1080.8,269.1 L1080.9,269.3 L1081.0,271.7 L1081.1,272.5 L1081.2,274.1 L1081.3,272.5 L1081.4,275.0 L1081.5,273.1 L1081.6,273.5 L1081.7,274.7 L1081.8,275.0 L1081.9,275.1 L1082.0,275.8 L1082.1,275.4 L1082.2,276.7 L1082.3,279.8 L1082.4,279.0 L1082.5,279.3 L1082.6,276.8 L1082.7,276.4 L1082.8,280.1 L1082.9,278.3 L1083.0,279.8 L1083.1,279.2 L1083.2,275.7 L1083.3,274.1 L1083.4,278.9 L1083.5,281.8 L1083.6,287.3 L1083.7,288.9 L1083.8,290.7 L1083.9,295.0 L1084.0,296.9 L1084.1,298.1 L1084.2,299.4 L1084.3,299.7 L1084.4,300.0 L1084.5,300.9 L1084.6,302.1 L1084.7,300.9 L1084.8,300.0 L1084.9,297.3 L1084.9,296.1 L1085.0,295.8 L1085.1,297.2 L1085.2,294.0 L1085.3,293.0 L1085.4,292.0 L1085.5,292.5 L1085.6,293.1 L1085.7,291.1 L1085.8,291.5 L1085.9,289.5 L1086.0,287.4 L1086.1,287.0 L1086.2,288.5 L1086.3,286.8 L1086.4,283.4 L1086.5,283.7 L1086.6,284.6 L1086.7,281.7 L1086.8,280.4 L1086.9,280.3 L1087.0,277.1 L1087.1,276.4 L1087.2,274.5 L1087.3,274.1 L1087.4,274.2 L1087.5,273.7 L1087.6,275.0 L1087.7,277.9 L1087.8,278.6 L1087.9,276.3 L1088.0,274.3 L1088.1,270.3 L1088.2,268.4 L1088.3,265.3 L1088.4,264.7 L1088.5,267.1 L1088.6,267.8 L1088.7,271.1 L1088.8,271.3 L1088.9,273.7 L1089.0,274.7 L1089.1,277.7 L1089.2,279.4 L1089.3,279.3 L1089.4,281.1 L1089.4,283.7 L1089.5,284.2 L1089.6,283.7 L1089.7,284.9 L1089.8,287.8 L1089.9,291.2 L1090.0,294.2 L1090.1,293.4 L1090.2,294.5 L1090.3,294.6 L1090.4,293.8 L1090.5,294.2 L1090.6,294.4 L1090.7,296.0 L1090.8,299.4 L1090.9,299.3 L1091.0,300.4 L1091.1,300.4 L1091.2,302.8 L1091.3,303.9 L1091.4,301.7 L1091.5,303.8 L1091.6,303.8 L1091.7,302.0 L1091.8,302.6 L1091.9,302.5 L1092.0,305.9 L1092.1,304.9 L1092.2,305.7 L1092.3,304.0 L1092.3,304.3 L1092.5,304.1 L1092.6,302.7 L1092.7,302.3 L1092.8,302.3 L1092.9,299.2 L1093.0,296.9 L1093.1,295.9 L1093.2,293.9 L1093.3,291.8 L1093.4,290.1 L1093.5,289.2 L1093.6,288.2 L1093.7,286.8 L1093.8,285.1 L1093.9,283.7 L1094.0,283.9 L1094.1,283.2 L1094.2,281.7 L1094.3,282.5 L1094.4,281.7 L1094.5,279.6 L1094.6,278.6 L1094.6,278.2 L1094.7,277.5 L1094.8,277.4 L1094.9,275.0 L1095.0,274.8 L1095.1,276.8 L1095.2,278.0 L1095.3,276.7 L1095.4,275.5 L1095.5,275.5 L1095.6,276.9 L1095.7,277.9 L1095.8,279.9 L1095.9,281.7 L1096.0,282.3 L1096.1,284.3 L1096.2,284.4 L1096.3,286.3 L1096.4,287.6 L1096.5,288.7 L1096.6,286.9 L1096.7,285.0 L1096.8,284.1 L1096.9,286.0 L1097.0,286.6 L1097.1,285.8 L1097.2,285.1 L1097.3,288.4 L1097.4,289.1 L1097.5,290.9 L1097.6,290.4 L1097.7,290.0 L1097.8,290.7 L1097.9,287.2 L1098.0,287.6 L1098.1,283.5 L1098.2,283.6 L1098.3,283.7 L1098.4,280.5 L1098.5,281.3 L1098.6,282.0 L1098.7,279.5 L1098.8,279.4 L1098.9,278.5 L1099.0,280.5 L1099.1,277.4 L1099.2,275.7 L1099.3,275.0 L1099.4,273.7 L1099.5,274.5 L1099.6,275.2 L1099.7,277.8 L1099.8,277.1 L1099.8,275.4 L1099.9,274.5 L1100.0,273.3 L1100.1,272.6 L1100.2,274.7 L1100.3,277.3 L1100.4,276.7 L1100.5,276.9 L1100.6,275.7 L1100.7,276.6 L1100.8,278.6 L1100.9,278.3 L1101.0,279.7 L1101.1,282.8 L1101.2,284.3 L1101.3,286.1 L1101.4,288.4 L1101.5,289.7 L1101.6,288.6 L1101.7,285.3 L1101.8,282.9 L1101.9,283.1 L1102.0,280.7 L1102.1,280.3 L1102.2,279.2 L1102.3,279.8 L1102.4,279.5 L1102.5,281.7 L1102.6,278.2 L1102.7,279.0 L1102.8,277.5 L1102.9,278.0 L1103.0,277.1 L1103.1,278.5 L1103.2,278.7 L1103.3,276.7 L1103.4,275.2 L1103.5,277.9 L1103.6,276.0 L1103.7,277.7 L1103.8,276.7 L1103.9,275.3 L1104.0,276.9 L1104.1,277.9 L1104.2,278.7 L1104.3,278.5 L1104.4,277.4 L1104.5,275.5 L1104.6,275.4 L1104.7,272.5 L1104.8,274.6 L1104.9,272.0 L1105.0,272.9 L1105.1,272.0 L1105.1,272.7 L1105.2,273.0 L1105.3,275.1 L1105.4,274.8 L1105.5,271.8 L1105.6,271.9 L1105.7,272.4 L1105.8,272.9 L1105.9,272.1 L1106.0,272.8 L1106.1,273.3 L1106.2,273.3 L1106.3,271.5 L1106.4,270.3 L1106.5,272.6 L1106.6,274.0 L1106.7,274.4 L1106.8,273.4 L1106.9,272.2 L1107.0,272.9 L1107.1,269.6 L1107.2,270.3 L1107.3,268.3 L1107.4,266.3 L1107.5,263.8 L1107.6,263.9 L1107.7,263.3 L1107.8,266.4 L1107.9,270.0 L1108.0,271.5 L1108.1,269.4 L1108.2,266.6 L1108.3,265.9 L1108.4,263.2 L1108.5,261.3 L1108.6,257.6 L1108.7,259.6 L1108.8,260.2 L1108.9,261.1 L1109.0,262.0 L1109.1,258.1 L1109.2,258.8 L1109.3,259.4 L1109.4,259.2 L1109.5,256.7 L1109.6,256.6 L1109.7,254.3 L1109.8,252.3 L1109.9,252.6 L1110.0,256.0 L1110.1,256.8 L1110.2,258.5 L1110.3,254.9 L1110.4,255.6 L1110.4,257.1 L1110.5,255.8 L1110.6,255.2 L1110.7,256.3 L1110.8,253.7 L1110.9,251.5 L1111.0,250.4 L1111.1,251.2 L1111.2,252.3 L1111.3,255.5 L1111.4,254.2 L1111.5,252.9 L1111.6,254.1 L1111.7,253.5 L1111.8,246.7 L1111.9,248.2 L1112.0,250.9 L1112.1,249.2 L1112.2,250.0 L1112.3,250.9 L1112.4,249.7 L1112.5,249.9 L1112.6,247.9 L1112.7,246.9 L1112.8,244.6 L1112.9,244.4 L1113.0,248.5 L1113.1,245.9 L1113.2,249.2 L1113.3,247.2 L1113.4,246.7 L1113.5,249.3 L1113.6,249.1 L1113.7,247.4 L1113.8,249.4 L1113.9,249.3 L1114.0,250.7 L1114.1,252.5 L1114.2,253.6 L1114.3,251.5 L1114.4,250.4 L1114.5,250.6 L1114.6,251.0 L1114.7,250.9 L1114.8,250.6 L1114.9,250.4 L1115.0,253.9 L1115.1,252.4 L1115.2,254.2 L1115.3,259.1 L1115.4,258.0 L1115.5,260.3 L1115.6,260.8 L1115.7,261.1 L1115.7,262.4 L1115.8,261.6 L1115.9,262.3 L1116.0,263.0 L1116.1,264.9 L1116.2,265.6 L1116.3,268.2 L1116.4,268.9 L1116.5,267.3 L1116.6,266.3 L1116.7,266.4 L1116.8,269.5 L1116.9,268.4 L1117.0,267.6 L1117.1,264.6 L1117.2,269.3 L1117.3,270.0 L1117.4,271.4 L1117.5,270.2 L1117.6,272.8 L1117.7,274.2 L1117.8,271.0 L1117.9,270.1 L1118.0,274.2 L1118.1,274.9 L1118.2,270.9 L1118.3,270.3 L1118.4,267.5 L1118.5,265.6 L1118.6,266.4 L1118.7,265.8 L1118.8,262.1 L1118.9,258.1 L1119.0,257.4 L1119.1,253.4 L1119.2,252.9 L1119.3,250.6 L1119.4,248.8 L1119.5,249.3 L1119.6,246.8 L1119.7,245.7 L1119.8,249.0 L1119.9,248.7 L1120.0,248.5 L1120.1,248.2 L1120.2,248.2 L1120.3,247.6 L1120.4,250.4 L1120.5,248.2 L1120.6,247.6 L1120.7,246.7 L1120.8,246.7 L1120.9,246.1 L1120.9,246.2 L1121.0,247.8 L1121.1,250.2 L1121.2,249.6 L1121.3,247.3 L1121.4,246.4 L1121.5,242.8 L1121.6,245.1 L1121.7,245.1 L1121.8,245.9 L1121.9,243.1 L1122.0,239.2 L1122.1,239.8 L1122.2,237.8 L1122.3,237.8 L1122.4,239.4 L1122.5,239.6 L1122.6,241.8 L1122.7,238.8 L1122.8,237.7 L1122.9,235.4 L1123.0,234.8 L1123.1,239.6 L1123.2,238.1 L1123.3,238.0 L1123.4,242.8 L1123.5,242.7 L1123.6,240.7 L1123.7,237.5 L1123.8,239.6 L1123.9,238.1 L1124.0,237.5 L1124.1,237.9 L1124.2,238.5 L1124.3,237.6 L1124.4,236.5 L1124.5,235.2 L1124.6,235.5 L1124.7,237.5 L1124.8,234.2 L1124.9,231.0 L1125.0,231.5 L1125.1,231.0 L1125.2,228.7 L1125.3,231.6 L1125.4,230.0 L1125.5,224.4 L1125.6,223.2 L1125.7,224.0 L1125.8,219.0 L1125.9,218.3 L1126.0,217.2 L1126.1,217.5 L1126.2,216.5 L1126.2,219.6 L1126.3,221.7 L1126.4,224.2 L1126.5,221.6 L1126.6,221.4 L1126.7,218.6 L1126.8,222.4 L1126.9,223.3 L1127.0,219.9 L1127.1,221.2 L1127.2,224.7 L1127.3,225.9 L1127.4,226.3 L1127.5,225.9 L1127.6,222.8 L1127.7,219.6 L1127.8,215.9 L1127.9,214.2 L1128.0,214.9 L1128.1,215.6 L1128.2,218.4 L1128.3,215.2 L1128.4,212.1 L1128.5,211.5 L1128.6,213.0 L1128.7,213.6 L1128.8,214.5 L1128.9,216.2 L1129.0,220.6 L1129.1,222.1 L1129.2,225.2 L1129.3,225.6 L1129.4,226.3 L1129.5,227.3 L1129.6,230.1 L1129.7,228.8 L1129.7,229.2 L1129.8,228.4 L1129.9,228.6 L1130.0,226.5 L1130.1,225.0 L1130.2,226.6 L1130.3,229.6 L1130.4,230.8 L1130.5,228.9 L1130.6,226.3 L1130.7,225.2 L1130.8,224.3 L1130.9,219.7 L1131.0,219.8 L1131.1,222.8 L1131.2,225.4 L1131.3,225.4 L1131.4,223.2 L1131.5,220.9 L1131.6,220.7 L1131.7,218.2 L1131.8,217.6 L1131.9,218.4 L1132.0,218.5 L1132.1,216.1 L1132.2,213.3 L1132.3,215.0 L1132.4,216.4 L1132.5,215.4 L1132.6,209.9 L1132.7,211.7 L1132.8,214.0 L1132.9,212.6 L1133.0,210.9 L1133.1,211.7 L1133.2,211.3 L1133.3,209.7 L1133.4,213.0 L1133.5,212.6 L1133.6,210.7 L1133.7,208.2 L1133.8,205.0 L1133.9,204.7 L1134.0,207.4 L1134.1,203.9 L1134.2,201.6 L1134.3,202.5 L1134.4,199.6 L1134.5,196.7 L1134.6,196.5 L1134.7,201.3 L1134.8,201.8 L1134.9,202.4 L1135.0,203.1 L1135.1,202.2 L1135.2,203.5 L1135.3,201.5 L1135.4,195.9 L1135.5,197.5 L1135.6,193.9 L1135.7,193.9 L1135.8,191.4 L1135.9,190.5 L1136.0,189.7 L1136.1,193.5 L1136.2,193.9 L1136.3,197.8 L1136.4,199.4 L1136.5,201.5 L1136.6,201.1 L1136.7,206.7 L1136.8,211.7 L1136.9,210.7 L1137.0,211.9 L1137.1,210.2 L1137.2,214.5 L1137.3,216.1 L1137.4,216.7 L1137.5,211.5 L1137.6,210.1 L1137.6,209.6 L1137.7,206.6 L1137.8,205.3 L1137.9,205.5 L1138.0,202.3 L1138.1,205.2 L1138.2,205.9 L1138.3,201.3 L1138.4,200.9 L1138.5,200.2 L1138.6,197.8 L1138.7,193.6 L1138.8,190.9 L1138.9,191.6 L1139.0,192.7 L1139.1,190.0 L1139.2,190.1 L1139.3,191.4 L1139.4,189.2 L1139.5,186.3 L1139.6,180.9 L1139.7,183.4 L1139.8,184.8 L1139.9,186.3 L1140.0,185.3 L1140.1,186.3 L1140.2,183.4 L1140.3,189.7 L1140.4,187.3 L1140.5,188.6 L1140.6,189.1 L1140.7,187.5 L1140.8,186.9 L1140.9,189.1 L1141.0,185.4 L1141.1,184.0 L1141.2,185.3 L1141.3,184.8 L1141.4,187.5 L1141.5,190.5 L1141.6,191.3 L1141.7,190.5 L1141.8,190.3 L1141.9,192.2 L1141.9,195.5 L1142.0,199.4 L1142.1,195.9 L1142.2,195.1 L1142.3,197.0 L1142.4,194.3 L1142.5,193.1 L1142.6,194.1 L1142.7,195.6 L1142.8,193.0 L1142.9,192.3 L1143.0,188.5 L1143.1,186.1 L1143.2,186.1 L1143.3,186.0 L1143.4,186.2 L1143.5,184.1 L1143.6,182.0 L1143.7,179.0 L1143.8,176.4 L1143.9,177.4 L1144.0,176.4 L1144.1,177.2 L1144.2,174.4 L1144.3,176.1 L1144.4,176.0 L1144.5,176.6 L1144.6,176.6 L1144.7,175.7 L1144.8,170.4 L1144.9,169.4 L1145.0,171.5 L1145.1,170.7 L1145.2,169.8 L1145.3,169.5 L1145.4,169.9 L1145.5,166.0 L1145.6,164.2 L1145.7,165.0 L1145.8,162.9 L1145.9,167.4 L1146.0,168.8 L1146.1,172.0 L1146.2,172.6 L1146.3,169.6 L1146.4,171.9 L1146.5,169.0 L1146.6,172.6 L1146.7,170.1 L1146.8,175.3 L1146.9,178.4 L1147.0,177.0 L1147.1,178.2 L1147.2,178.8 L1147.2,178.1 L1147.3,177.0 L1147.4,176.6 L1147.5,178.3 L1147.6,178.3 L1147.7,177.3 L1147.8,178.7 L1147.9,176.8 L1148.0,171.8 L1148.1,175.1 L1148.2,175.7 L1148.3,175.6 L1148.4,174.8 L1148.5,173.9 L1148.6,174.9 L1148.7,174.2 L1148.8,173.5 L1148.9,172.9 L1149.0,168.4 L1149.1,167.3 L1149.2,170.2 L1149.3,173.2 L1149.4,170.8 L1149.5,170.7 L1149.6,171.3 L1149.7,173.7 L1149.8,173.5 L1149.9,172.8 L1150.0,173.6 L1150.1,173.5 L1150.2,170.4 L1150.3,167.4 L1150.4,165.1 L1150.5,164.6 L1150.6,171.3 L1150.7,172.7 L1150.8,172.3 L1150.9,172.5 L1151.0,172.9 L1151.1,175.5 L1151.2,177.9 L1151.3,181.2 L1151.4,181.4 L1151.5,185.2 L1151.6,183.3 L1151.7,184.6 L1151.8,188.6 L1151.8,191.7 L1151.9,198.5 L1152.0,199.1 L1152.1,198.6 L1152.2,191.8 L1152.3,192.6 L1152.4,189.3 L1152.5,188.0 L1152.6,187.5 L1152.7,184.9 L1152.8,188.5 L1152.9,185.1 L1153.0,184.0 L1153.1,186.8 L1153.2,190.4 L1153.3,193.4 L1153.4,195.3 L1153.5,205.9 L1153.6,214.9 L1153.7,222.8 L1153.8,226.1 L1153.9,227.8" fill="none" stroke="#c41a1c" stroke-width="1.8" stroke-linejoin="round"/>
<rect x="529" y="497.8" width="624.8" height="2" fill="#5b636e"/>
<g fill="#2e3640" font-size="18.5">
<text x="517.5" y="507.1" text-anchor="end">0</text>
<text x="470" y="452.7" textLength="48.5" lengthAdjust="spacing">1,000</text>
<text x="470" y="398.2" textLength="48.5" lengthAdjust="spacing">2,000</text>
<text x="470" y="343.8" textLength="48.5" lengthAdjust="spacing">3,000</text>
<text x="470" y="289.4" textLength="48.5" lengthAdjust="spacing">4,000</text>
<text x="470" y="235.0" textLength="48.5" lengthAdjust="spacing">5,000</text>
<text x="470" y="180.5" textLength="48.5" lengthAdjust="spacing">6,000</text>
<text x="470" y="126.1" textLength="48.5" lengthAdjust="spacing">7,000</text>
</g>
<g fill="#2e3640" font-size="16">
<text x="530.1" y="516.8" textLength="21.5" lengthAdjust="spacing">&#8217;00</text>
<text x="579.5" y="516.8" textLength="21.5" lengthAdjust="spacing">&#8217;02</text>
<text x="629.0" y="516.8" textLength="21.5" lengthAdjust="spacing">&#8217;04</text>
<text x="678.4" y="516.8" textLength="21.5" lengthAdjust="spacing">&#8217;06</text>
<text x="727.9" y="516.8" textLength="21.5" lengthAdjust="spacing">&#8217;08</text>
<text x="777.4" y="516.8" textLength="21.5" lengthAdjust="spacing">&#8217;10</text>
<text x="826.8" y="516.8" textLength="21.5" lengthAdjust="spacing">&#8217;12</text>
<text x="876.3" y="516.8" textLength="21.5" lengthAdjust="spacing">&#8217;14</text>
<text x="925.7" y="516.8" textLength="21.5" lengthAdjust="spacing">&#8217;16</text>
<text x="975.2" y="516.8" textLength="21.5" lengthAdjust="spacing">&#8217;18</text>
<text x="1024.7" y="516.8" textLength="21.5" lengthAdjust="spacing">&#8217;20</text>
<text x="1074.1" y="516.8" textLength="21.5" lengthAdjust="spacing">&#8217;22</text>
<text x="1123.6" y="516.8" textLength="21.5" lengthAdjust="spacing">&#8217;24</text>
</g>
<!-- boxes -->
<g fill="#c9221c">
<path d="M561,161 H793.7 Q796.7,161 796.7,164 V210.75 Q796.7,213.75 793.7,213.75 H568.4 Q565.4,213.75 565.4,210.75 V170.6 Z"/>
<path d="M736.3,260.8 H896.5 Q899.5,260.8 899.5,263.8 V310.75 Q899.5,313.75 896.5,313.75 H744.25 Q741.25,313.75 741.25,310.75 V268 Z"/>
<path d="M1028.5,123 H927 Q924,123 924,126 V172.7 Q924,175.7 927,175.7 H1020.5 Q1023.5,175.7 1023.5,172.7 V132 Z"/>
<path d="M1082.3,179.1 H927 Q924,179.1 924,182.1 V228.5 Q924,231.5 927,231.5 H1074.9 Q1077.9,231.5 1077.9,228.5 V188 Z"/>
<path d="M1152,406.7 H1003.8 Q1000.8,406.7 1000.8,409.7 V456.5 Q1000.8,459.5 1003.8,459.5 H1144.5 Q1147.5,459.5 1147.5,456.5 V413.75 Z"/>
</g>
<g fill="#ffffff" font-size="22.5">
<text x="572.29" y="181.1" textLength="214.58" lengthAdjust="spacing">Dot-com bubble, 9/11</text>
<text x="571.84" y="206.1" font-weight="bold" textLength="53.94" lengthAdjust="spacing">-49%</text>
<text x="747.64" y="280.9" textLength="144.79" lengthAdjust="spacing">Financial crisis</text>
<text x="747.87" y="306.2" font-weight="bold" textLength="53.17" lengthAdjust="spacing">-57%</text>
<text x="930.88" y="141.9" textLength="84.93" lengthAdjust="spacing">Covid-19</text>
<text x="962.97" y="167.8" font-weight="bold" textLength="53.63" lengthAdjust="spacing">-34%</text>
<text x="930.41" y="198.6" textLength="140.05" lengthAdjust="spacing">Inflation crisis</text>
<text x="1018.61" y="224" font-weight="bold" textLength="51.9" lengthAdjust="spacing">-25%</text>
<text x="1008.23" y="426.5" textLength="132.63" lengthAdjust="spacing">Trump tariffs</text>
<text x="1088.87" y="452" font-weight="bold" textLength="51.57" lengthAdjust="spacing">-19%</text>
</g>
</svg>
</body></html>
